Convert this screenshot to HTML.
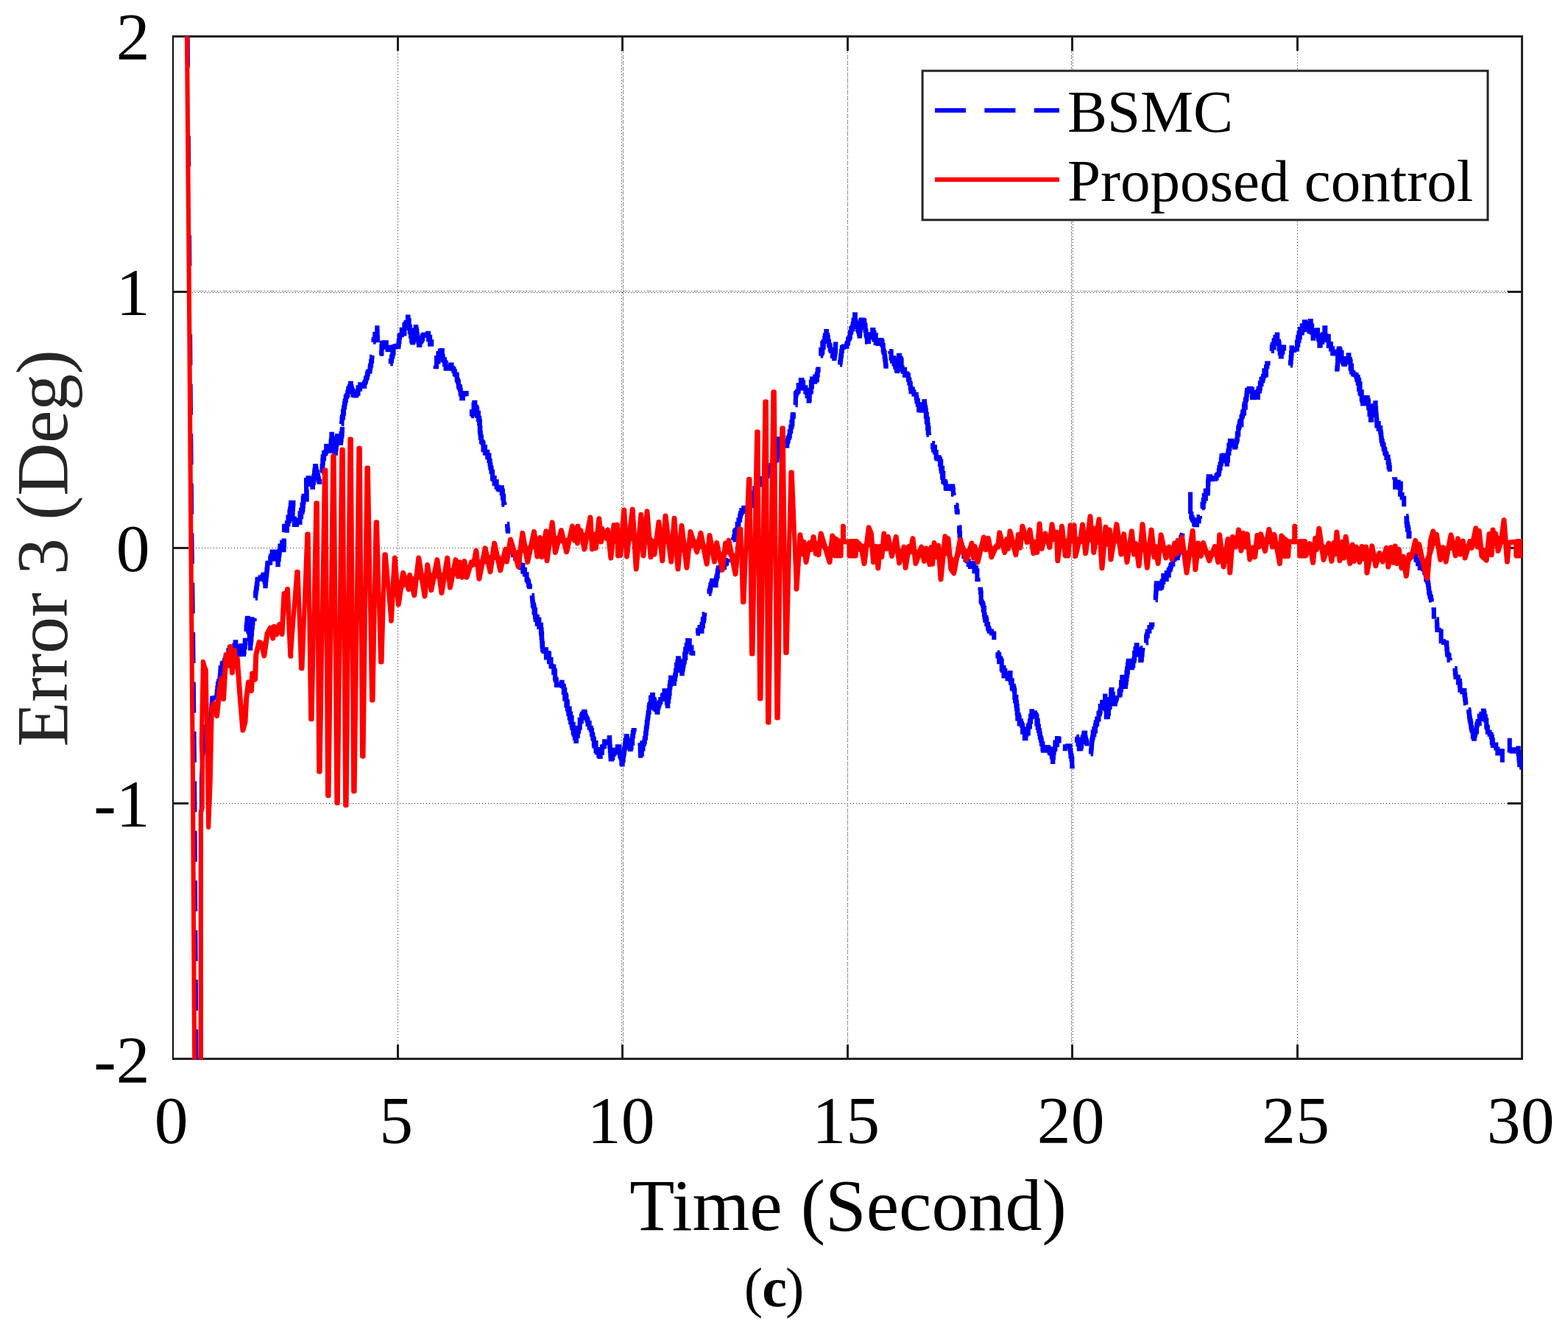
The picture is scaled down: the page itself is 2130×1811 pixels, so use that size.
<!DOCTYPE html>
<html lang="en"><head><meta charset="utf-8"><title>Error 3 (Deg) vs Time (Second)</title>
<style>html,body{margin:0;padding:0;background:#fff}body{width:2130px;height:1811px;overflow:hidden}svg{display:block}text{font-family:'Liberation Serif', 'DejaVu Serif', serif;}</style>
</head><body>
<svg width="2130" height="1811" viewBox="0 0 2130 1811">
<rect x="0" y="0" width="2130" height="1811" fill="#ffffff"/>
<defs><clipPath id="ax"><rect x="235.0" y="48.9" width="1833.0" height="1390.6"/></clipPath></defs>
<g stroke="#2b2b2b" stroke-width="1" fill="none" shape-rendering="crispEdges">
<line x1="540.5" y1="53" x2="540.5" y2="1436" stroke-dasharray="1 3"/>
<line x1="844.5" y1="53" x2="844.5" y2="1436" stroke-dasharray="1 3"/>
<line x1="846.5" y1="55" x2="846.5" y2="1436" stroke-dasharray="1 3"/>
<line x1="846.5" y1="53" x2="846.5" y2="1436" stroke-dasharray="1 7"/>
<line x1="1151.5" y1="55" x2="1151.5" y2="1436" stroke-dasharray="1 3"/>
<line x1="1151.5" y1="53" x2="1151.5" y2="1436" stroke-dasharray="1 7"/>
<line x1="1455.5" y1="55" x2="1455.5" y2="1436" stroke-dasharray="1 3"/>
<line x1="1455.5" y1="53" x2="1455.5" y2="1436" stroke-dasharray="1 7"/>
<line x1="1457.5" y1="53" x2="1457.5" y2="1436" stroke-dasharray="1 3"/>
<line x1="1762.5" y1="53" x2="1762.5" y2="1436" stroke-dasharray="1 3"/>
<line x1="239" y1="395.5" x2="2065" y2="395.5" stroke-dasharray="1 3"/>
<line x1="241" y1="395.5" x2="2065" y2="395.5" stroke-dasharray="1 15"/>
<line x1="241" y1="397.5" x2="2065" y2="397.5" stroke-dasharray="1 3"/>
<line x1="238" y1="744.5" x2="2065" y2="744.5" stroke-dasharray="1 3"/>
<line x1="239" y1="1091.5" x2="2065" y2="1091.5" stroke-dasharray="1 3"/>
</g>
<g shape-rendering="crispEdges">
<rect x="234" y="48" width="1835" height="3" fill="#202020"/>
<rect x="234" y="1437" width="1835" height="3" fill="#202020"/>
<rect x="234" y="48" width="2" height="1392" fill="#0c0c0c"/>
<rect x="2066" y="48" width="3" height="1392" fill="#202020"/>
<rect x="539" y="50" width="3" height="19.0" fill="#1e1e1e"/>
<rect x="539" y="1419.0" width="3" height="19.0" fill="#1e1e1e"/>
<rect x="844" y="50" width="3" height="19.0" fill="#1e1e1e"/>
<rect x="844" y="1419.0" width="3" height="19.0" fill="#1e1e1e"/>
<rect x="1150" y="50" width="3" height="19.0" fill="#1e1e1e"/>
<rect x="1150" y="1419.0" width="3" height="19.0" fill="#1e1e1e"/>
<rect x="1455" y="50" width="3" height="19.0" fill="#1e1e1e"/>
<rect x="1455" y="1419.0" width="3" height="19.0" fill="#1e1e1e"/>
<rect x="1761" y="50" width="3" height="19.0" fill="#1e1e1e"/>
<rect x="1761" y="1419.0" width="3" height="19.0" fill="#1e1e1e"/>
<rect x="235" y="395" width="20.6" height="3" fill="#1e1e1e"/>
<rect x="2047.8" y="395" width="19.7" height="3" fill="#1e1e1e"/>
<rect x="235" y="743" width="20.6" height="3" fill="#1e1e1e"/>
<rect x="2047.8" y="743" width="19.7" height="3" fill="#1e1e1e"/>
<rect x="235" y="1090" width="20.6" height="3" fill="#1e1e1e"/>
<rect x="2047.8" y="1090" width="19.7" height="3" fill="#1e1e1e"/>
</g>
<g clip-path="url(#ax)" fill="none">
<g stroke="#0000ff" stroke-width="6.1" stroke-linejoin="miter" stroke-miterlimit="3" stroke-linecap="butt">
<path d="M254.62 40.0 L255.07 91.6"/>
<path d="M255.86 184.5 L256.22 226.5"/>
<path d="M257.02 319.4 L257.38 361.4"/>
<path d="M258.11 454.3 L258.43 496.3"/>
<path d="M258.64 521.8 L259.00 563.8"/>
<path d="M259.22 589.2 L259.57 631.2"/>
<path d="M259.79 656.7 L260.15 698.7"/>
<path d="M260.36 724.1 L260.85 766.1"/>
<path d="M261.19 791.6 L261.76 833.6"/>
<path d="M262.07 859.0 L262.52 901.0"/>
<path d="M262.78 926.5 L263.22 968.5"/>
<path d="M263.49 993.9 L263.93 1035.9"/>
<path d="M264.13 1061.3 L264.38 1103.3"/>
<path d="M264.53 1128.8 L264.78 1170.8"/>
<path d="M264.94 1196.2 L265.19 1238.2"/>
<path d="M265.34 1263.7 L265.59 1305.7"/>
<path d="M265.75 1331.1 L266.00 1373.1"/>
<path d="M266.15 1398.6 L266.40 1440.6"/>
<path d="M266.40 1466.0 L266.40 1445.0"/>
<path d="M272.8 1460.0 L272.8 1103.0 L274.0 1099.0 L274.0 1059.0 L274.8 1040.0 L275.5 985.0 L279.0 1000.0 L283.3 1040.0 L285.3 1000.0"/>
<path d="M285.3 1000.0 L285.4 1000.0 L285.4 996.0 L285.5 996.0 L285.5 994.6 L285.6 994.6 L285.6 989.4 L285.8 989.4 L285.8 988.1 L285.9 988.1 L285.9 983.1 L286.0 983.1 L286.0 979.2 L286.1 979.2 L286.1 977.0 L286.2 977.0 L286.2 977.0 L286.5 977.0 L286.5 970.0 L286.7 970.0 L286.7 969.5 L287.0 969.5 L287.0 965.2 L287.2 965.2 L287.2 963.2 L287.5 963.2 L287.5 958.7 L287.8 958.7 L287.8 957.0 L288.0 957.0 L288.0 951.9 L288.3 951.9 L288.3 948.5 L291.2 948.5 L291.2 948.0 L294.2 948.0 L294.2 946.5 L294.5 946.5 L294.5 944.9 L294.8 944.9 L294.8 939.6 L295.1 939.6 L295.1 939.4 L295.4 939.4 L295.4 934.3 L295.7 934.3 L295.7 935.5 L296.0 935.5 L296.0 928.8 L297.2 928.8 L297.2 925.3 L298.5 925.3 L298.5 926.5 L298.7 926.5 L298.7 920.6 L298.9 920.6 L298.9 918.7 L299.1 918.7 L299.1 917.2 L299.4 917.2 L299.4 912.9 L299.6 912.9 L299.6 908.6 L299.8 908.6 L299.8 908.8 L300.0 908.8 L300.0 906.7 L301.8 906.7 L301.8 901.2 L303.6 901.2 L303.6 900.5 L305.1 900.5 L305.1 896.8 L306.5 896.8 L306.5 894.3 L308.0 894.3 L308.0 894.0 L308.8 894.0 L308.8 891.1 L309.6 891.1 L309.6 889.4 L310.4 889.4 L310.4 883.7 L311.2 883.7 L311.2 883.1 L312.0 883.1 L312.0 879.6 L314.0 879.6 L314.0 882.0 L316.0 882.0 L316.0 882.2 L317.2 882.2 L317.2 880.8 L318.5 880.8 L318.5 876.5 L319.7 876.5 L319.7 872.4 L320.3 872.4 L320.3 878.2 L320.9 878.2 L320.9 878.6 L321.4 878.6 L321.4 883.8 L322.0 883.8 L322.0 885.3 L324.8 885.3 L324.8 889.3 L325.4 889.3 L325.4 884.1 L326.1 884.1 L326.1 884.0 L326.7 884.0 L326.7 880.7 L327.3 880.7 L327.3 877.3 L328.0 877.3 L328.0 881.5 L328.6 881.5 L328.6 880.1 L329.3 880.1 L329.3 886.8 L330.0 886.8 L330.0 887.1 L330.6 887.1 L330.6 888.9 L331.1 888.9 L331.1 886.2 L331.6 886.2 L331.6 877.0 L332.2 877.0 L332.2 879.5 L332.8 879.5 L332.8 869.9 L333.3 869.9 L333.3 870.6"/>
<path d="M334.3 857.9 L334.6 857.9 L334.6 852.0 L335.0 852.0 L335.0 849.0 L335.3 849.0 L335.3 847.2 L335.6 847.2 L335.6 843.4 L335.9 843.4 L335.9 840.1 L336.3 840.1 L336.3 841.9 L336.6 841.9 L336.6 839.8 L336.8 839.8 L336.8 844.8 L337.1 844.8 L337.1 840.7 L337.3 840.7 L337.3 843.9 L337.5 843.9 L337.5 847.0 L337.8 847.0 L337.8 849.4 L338.0 849.4 L338.0 857.1 L338.3 857.1 L338.3 855.2 L338.5 855.2 L338.5 859.2 L338.8 859.2 L338.8 865.8 L339.0 865.8 L339.0 868.1 L339.2 868.1 L339.2 868.6 L339.5 868.6 L339.5 873.4 L339.7 873.4 L339.7 873.3 L340.0 873.3 L340.0 880.8 L340.3 880.8 L340.3 871.9 L340.5 871.9 L340.5 873.7 L340.8 873.7 L340.8 870.4 L341.1 870.4 L341.1 867.9 L341.4 867.9 L341.4 862.1 L341.7 862.1 L341.7 861.3 L342.0 861.3 L342.0 855.5 L342.2 855.5 L342.2 851.8 L342.5 851.8 L342.5 852.6 L342.8 852.6 L342.8 846.5 L343.1 846.5 L343.1 846.7 L343.4 846.7 L343.4 841.2 L345.6 841.2 L345.6 839.8"/>
<path d="M346.8 812.6 L347.1 812.6 L347.1 806.5 L347.5 806.5 L347.5 804.3 L347.8 804.3 L347.8 802.8 L348.1 802.8 L348.1 799.6 L348.5 799.6 L348.5 798.4 L348.8 798.4 L348.8 794.3 L349.2 794.3 L349.2 793.2 L349.5 793.2 L349.5 788.0 L349.8 788.0 L349.8 787.1 L350.2 787.1 L350.2 786.8 L353.6 786.8 L353.6 784.2 L355.3 784.2 L355.3 784.4 L357.0 784.4 L357.0 782.5 L357.7 782.5 L357.7 780.6 L358.3 780.6 L358.3 786.9 L359.0 786.9 L359.0 787.9 L359.7 787.9 L359.7 790.8 L360.4 790.8 L360.4 796.3 L360.7 796.3 L360.7 792.1 L361.0 792.1 L361.0 787.9 L361.3 787.9 L361.3 786.4 L361.6 786.4 L361.6 782.4 L361.9 782.4 L361.9 780.5 L362.2 780.5 L362.2 777.6 L362.5 777.6 L362.5 773.7 L362.9 773.7 L362.9 771.8 L363.2 771.8 L363.2 767.4 L363.5 767.4 L363.5 764.7 L363.8 764.7 L363.8 764.8 L367.2 764.8 L367.2 758.4 L368.0 758.4 L368.0 755.2 L368.9 755.2 L368.9 759.8 L369.7 759.8 L369.7 749.5 L370.6 749.5 L370.6 752.3 L374.0 752.3 L374.0 749.8 L374.7 749.8 L374.7 750.7 L375.4 750.7 L375.4 758.9 L376.0 758.9 L376.0 757.3 L376.7 757.3 L376.7 760.1 L377.4 760.1 L377.4 767.3 L377.8 767.3 L377.8 761.0 L378.2 761.0 L378.2 759.6 L378.7 759.6 L378.7 755.2 L379.1 755.2 L379.1 753.0 L379.5 753.0 L379.5 748.8 L379.9 748.8 L379.9 746.9 L380.4 746.9 L380.4 741.6 L380.8 741.6 L380.8 742.2 L383.1 742.2 L383.1 736.7 L385.3 736.7 L385.3 747.3 L385.6 747.3 L385.6 734.5 L385.8 734.5 L385.8 740.4 L386.0 740.4 L386.0 733.2"/>
<path d="M383.1 714.7 L386.1 714.7 L386.1 719.9 L389.2 719.9 L389.2 720.6 L389.9 720.6 L389.9 710.3 L390.7 710.3 L390.7 712.3 L391.5 712.3 L391.5 702.6 L392.2 702.6 L392.2 708.0 L393.0 708.0 L393.0 704.0 L393.4 704.0 L393.4 695.1 L393.8 695.1 L393.8 696.5 L394.2 696.5 L394.2 691.8 L394.5 691.8 L394.5 690.5 L394.9 690.5 L394.9 686.3 L395.3 686.3 L395.3 682.8 L398.4 682.8 L398.4 685.2 L398.2 685.2 L398.2 686.4 L398.0 686.4 L398.0 690.9 L397.8 690.9 L397.8 692.5 L397.6 692.5 L397.6 697.4 L397.4 697.4 L397.4 698.6 L397.2 698.6 L397.2 705.3 L397.0 705.3 L397.0 702.2 L396.8 702.2 L396.8 704.6 L399.9 704.6 L399.9 713.0 L403.0 713.0 L403.0 706.5 L406.0 706.5 L406.0 706.5 L406.8 706.5 L406.8 710.0 L407.5 710.0 L407.5 697.2 L408.3 697.2 L408.3 702.1 L409.1 702.1 L409.1 692.8 L409.8 692.8 L409.8 695.9 L410.6 695.9 L410.6 685.5 L411.0 685.5 L411.0 692.7 L411.4 692.7 L411.4 688.1 L411.8 688.1 L411.8 676.8 L412.1 676.8 L412.1 682.8 L412.5 682.8 L412.5 673.7 L412.9 673.7 L412.9 678.7 L416.7 678.7 L416.7 668.4 L416.6 668.4 L416.6 672.0 L416.4 672.0 L416.4 669.6 L416.3 669.6 L416.3 666.9 L416.1 666.9 L416.1 654.8 L416.0 654.8 L416.0 652.1 L417.2 652.1 L417.2 658.3 L418.5 658.3 L418.5 649.4 L419.8 649.4 L419.8 651.1 L420.9 651.1 L420.9 651.0 L422.1 651.0 L422.1 655.9 L423.2 655.9 L423.2 657.3 L424.4 657.3 L424.4 661.9 L424.9 661.9 L424.9 656.5 L425.4 656.5 L425.4 656.0 L425.9 656.0 L425.9 651.4 L426.3 651.4 L426.3 647.9 L426.7 647.9 L426.7 646.4 L427.1 646.4 L427.1 642.3 L427.4 642.3 L427.4 639.2 L427.8 639.2 L427.8 637.4 L428.2 637.4 L428.2 633.0 L429.0 633.0 L429.0 637.4 L429.7 637.4 L429.7 640.8 L430.5 640.8 L430.5 642.0 L431.3 642.0 L431.3 646.2 L432.0 646.2 L432.0 649.6 L432.8 649.6 L432.8 653.3 L433.6 653.3 L433.6 654.4 L434.3 654.4 L434.3 658.0"/>
<path d="M437.4 641.2 L437.6 641.2 L437.6 633.6 L437.8 633.6 L437.8 639.4 L438.0 639.4 L438.0 634.3 L438.3 634.3 L438.3 625.5 L438.5 625.5 L438.5 629.1 L438.7 629.1 L438.7 620.3 L438.9 620.3 L438.9 623.1 L440.1 623.1 L440.1 614.9 L441.2 614.9 L441.2 616.5 L442.2 616.5 L442.2 613.7 L443.2 613.7 L443.2 606.1 L444.3 606.1 L444.3 607.7 L446.6 607.7 L446.6 606.0 L448.9 606.0 L448.9 612.8 L449.1 612.8 L449.1 606.8 L449.4 606.8 L449.4 605.3 L449.6 605.3 L449.6 600.2 L449.9 600.2 L449.9 598.2 L450.1 598.2 L450.1 597.3 L450.4 597.3 L450.4 589.9 L451.0 589.9 L451.0 597.7 L451.5 597.7 L451.5 595.8 L452.1 595.8 L452.1 602.2 L452.7 602.2 L452.7 602.3 L453.3 602.3 L453.3 608.4 L453.8 608.4 L453.8 606.5 L454.4 606.5 L454.4 615.3 L455.0 615.3 L455.0 612.4 L455.4 612.4 L455.4 615.8 L455.9 615.8 L455.9 606.4 L456.3 606.4 L456.3 609.6 L456.7 609.6 L456.7 604.1 L457.2 604.1 L457.2 601.2 L457.6 601.2 L457.6 594.9 L458.0 594.9 L458.0 592.3 L459.6 592.3 L459.6 595.4 L461.1 595.4 L461.1 597.9 L462.6 597.9 L462.6 601.9 L463.0 601.9 L463.0 596.2 L463.3 596.2 L463.3 597.8 L463.6 597.8 L463.6 588.8 L463.9 588.8 L463.9 592.7 L464.3 592.7 L464.3 589.6 L464.6 589.6 L464.6 585.2 L464.9 585.2 L464.9 580.0"/>
<path d="M463.6 575.9 L464.0 575.9 L464.0 575.4 L464.5 575.4 L464.5 568.7 L465.0 568.7 L465.0 566.0 L465.5 566.0 L465.5 567.2 L466.0 567.2 L466.0 558.6 L466.5 558.6 L466.5 561.6 L467.0 561.6 L467.0 553.9 L467.5 553.9 L467.5 553.0 L468.1 553.0 L468.1 548.4 L468.7 548.4 L468.7 544.8 L469.2 544.8 L469.2 544.2 L469.8 544.2 L469.8 539.3 L470.4 539.3 L470.4 538.6 L471.3 538.6 L471.3 536.8 L472.3 536.8 L472.3 532.7 L473.2 532.7 L473.2 528.4 L474.1 528.4 L474.1 527.3 L475.1 527.3 L475.1 524.8 L476.0 524.8 L476.0 520.7 L476.7 520.7 L476.7 525.0 L477.4 525.0 L477.4 527.8 L478.1 527.8 L478.1 530.9 L478.8 530.9 L478.8 530.5 L479.4 530.5 L479.4 536.6 L481.7 536.6 L481.7 537.5 L484.0 537.5 L484.0 535.4 L484.8 535.4 L484.8 532.2 L485.7 532.2 L485.7 534.6 L486.5 534.6 L486.5 526.4 L487.4 526.4 L487.4 528.7 L489.1 528.7 L489.1 522.4 L490.8 522.4 L490.8 523.3 L494.2 523.3 L494.2 525.0 L495.1 525.0 L495.1 520.2 L496.1 520.2 L496.1 518.3 L497.0 518.3 L497.0 514.1 L498.0 514.1 L498.0 512.5 L498.9 512.5 L498.9 508.1 L499.8 508.1 L499.8 504.8 L502.1 504.8 L502.1 504.1 L502.6 504.1 L502.6 499.7 L503.1 499.7 L503.1 497.0 L503.6 497.0 L503.6 496.0 L504.1 496.0 L504.1 491.0 L504.5 491.0 L504.5 490.8 L505.0 490.8 L505.0 484.8 L505.5 484.8 L505.5 483.0"/>
<path d="M507.1 464.8 L507.4 464.8 L507.4 463.0 L507.8 463.0 L507.8 460.8 L509.3 460.8 L509.3 453.8 L510.8 453.8 L510.8 454.6 L512.3 454.6 L512.3 445.2 L512.4 445.2 L512.4 449.8 L512.6 449.8 L512.6 459.8 L512.7 459.8 L512.7 462.2 L512.9 462.2 L512.9 458.5 L513.0 458.5 L513.0 464.8"/>
<path d="M516.2 480.7 L518.0 480.7 L518.0 479.3 L518.2 479.3 L518.2 480.0 L518.4 480.0 L518.4 470.5 L518.7 470.5 L518.7 473.3 L518.9 473.3 L518.9 465.7 L519.1 465.7 L519.1 467.8 L522.0 467.8 L522.0 465.4 L524.8 465.4 L524.8 471.7 L526.5 471.7 L526.5 475.1 L528.3 475.1 L528.3 471.9 L530.0 471.9 L530.0 476.2"/>
<path d="M530.2 494.2 L530.8 494.2 L530.8 490.1 L531.4 490.1 L531.4 490.3 L532.0 490.3 L532.0 485.2 L532.6 485.2 L532.6 483.8 L533.3 483.8 L533.3 480.8 L533.9 480.8 L533.9 479.5 L534.5 479.5 L534.5 471.4 L536.6 471.4 L536.6 470.2 L538.8 470.2 L538.8 469.9 L540.9 469.9 L540.9 471.2 L541.3 471.2 L541.3 468.2 L541.7 468.2 L541.7 463.2 L542.0 463.2 L542.0 464.2 L542.4 464.2 L542.4 457.1 L542.7 457.1 L542.7 458.5 L543.1 458.5 L543.1 455.1 L545.7 455.1 L545.7 447.9 L548.3 447.9 L548.3 453.4 L549.4 453.4 L549.4 441.3 L550.5 441.3 L550.5 440.1 L551.6 440.1 L551.6 438.0 L552.8 438.0 L552.8 440.3 L553.9 440.3 L553.9 430.6 L554.5 430.6 L554.5 441.8 L555.1 441.8 L555.1 435.2 L555.6 435.2 L555.6 445.9 L556.2 445.9 L556.2 443.9 L556.8 443.9 L556.8 451.2 L557.4 451.2 L557.4 448.5 L558.0 448.5 L558.0 457.2 L558.6 457.2 L558.6 454.0 L559.2 454.0 L559.2 463.4 L559.8 463.4 L559.8 461.2 L560.3 461.2 L560.3 465.4 L561.0 465.4 L561.0 463.8 L561.6 463.8 L561.6 461.6 L562.2 461.6 L562.2 455.9 L562.8 455.9 L562.8 455.2 L563.4 455.2 L563.4 452.0 L564.0 452.0 L564.0 448.2 L564.7 448.2 L564.7 444.1 L565.2 444.1 L565.2 447.2 L565.7 447.2 L565.7 450.0 L566.3 450.0 L566.3 454.2 L566.8 454.2 L566.8 457.3 L567.3 457.3 L567.3 459.0 L567.9 459.0 L567.9 460.4 L568.4 460.4 L568.4 464.7 L569.0 464.7 L569.0 469.0 L570.3 469.0 L570.3 464.8 L571.6 464.8 L571.6 463.0 L572.8 463.0 L572.8 460.7 L574.1 460.7 L574.1 455.7 L575.4 455.7 L575.4 454.5 L578.2 454.5 L578.2 455.9 L581.0 455.9 L581.0 452.9 L582.1 452.9 L582.1 461.3 L583.1 461.3 L583.1 457.8 L584.1 457.8 L584.1 467.6 L585.2 467.6 L585.2 464.4 L586.2 464.4 L586.2 470.5"/>
<path d="M590.5 496.4 L591.7 496.4 L591.7 498.1 L593.0 498.1 L593.0 486.1 L594.2 486.1 L594.2 491.4 L595.4 491.4 L595.4 480.0 L596.7 480.0 L596.7 484.8 L597.9 484.8 L597.9 476.6 L599.1 476.6 L599.1 480.1 L599.9 480.1 L599.9 476.0 L600.8 476.0 L600.8 484.1 L601.6 484.1 L601.6 488.6 L602.4 488.6 L602.4 489.8 L603.2 489.8 L603.2 488.2 L604.0 488.2 L604.0 495.3 L604.8 495.3 L604.8 492.6 L605.6 492.6 L605.6 500.7 L608.8 500.7 L608.8 498.9 L612.1 498.9 L612.1 495.5 L613.5 495.5 L613.5 500.0 L614.9 500.0 L614.9 501.3 L616.4 501.3 L616.4 504.3 L617.8 504.3 L617.8 508.5 L619.3 508.5 L619.3 509.1 L620.7 509.1 L620.7 515.5 L621.4 515.5 L621.4 517.0 L622.1 517.0 L622.1 518.6 L622.8 518.6 L622.8 524.2 L623.6 524.2 L623.6 526.7 L624.3 526.7 L624.3 525.6 L625.0 525.6 L625.0 529.8 L625.7 529.8 L625.7 534.4 L626.4 534.4 L626.4 536.2 L627.2 536.2 L627.2 541.2 L628.8 541.2 L628.8 535.6 L630.4 535.6 L630.4 534.1 L632.0 534.1 L632.0 535.1 L633.6 535.1 L633.6 530.9"/>
<path d="M640.1 565.3 L640.9 565.3 L640.9 559.4 L641.8 559.4 L641.8 563.3 L642.7 563.3 L642.7 561.1 L643.5 561.1 L643.5 549.6 L644.4 549.6 L644.4 546.8 L645.3 546.8 L645.3 556.7 L646.2 556.7 L646.2 552.7 L647.2 552.7 L647.2 555.3 L648.1 555.3 L648.1 564.9 L649.0 564.9 L649.0 560.9 L649.9 560.9 L649.9 570.3 L650.9 570.3 L650.9 567.7 L651.1 567.7 L651.1 575.3 L651.3 575.3 L651.3 571.6 L651.6 571.6 L651.6 573.5 L651.8 573.5 L651.8 585.4 L652.1 585.4 L652.1 581.4 L652.3 581.4 L652.3 588.6 L652.5 588.6 L652.5 587.6 L652.8 587.6 L652.8 594.7 L653.0 594.7 L653.0 593.4 L653.9 593.4 L653.9 600.2 L654.7 600.2 L654.7 600.2 L655.6 600.2 L655.6 602.0 L656.5 602.0 L656.5 611.2 L657.3 611.2 L657.3 607.1 L658.9 607.1 L658.9 615.7 L660.6 615.7 L660.6 613.8 L662.2 613.8 L662.2 621.3 L663.8 621.3 L663.8 618.6 L664.4 618.6 L664.4 625.9 L665.0 625.9 L665.0 626.3 L665.6 626.3 L665.6 631.1 L666.3 631.1 L666.3 635.1 L666.9 635.1 L666.9 636.1 L667.5 636.1 L667.5 641.2 L668.1 641.2 L668.1 640.9 L669.0 640.9 L669.0 649.9 L669.8 649.9 L669.8 651.3 L670.7 651.3 L670.7 649.1 L671.6 649.1 L671.6 657.3 L672.4 657.3 L672.4 654.4 L674.6 654.4 L674.6 661.9 L676.7 661.9 L676.7 664.8 L678.9 664.8 L678.9 665.4 L681.0 665.4 L681.0 662.3 L681.7 662.3 L681.7 670.3 L682.3 670.3 L682.3 666.8 L682.9 666.8 L682.9 676.8 L683.5 676.8 L683.5 673.8 L684.1 673.8 L684.1 684.2 L684.7 684.2 L684.7 685.6 L685.3 685.6 L685.3 686.0"/>
<path d="M688.8 711.9 L689.1 711.9 L689.1 713.9 L689.4 713.9 L689.4 718.9 L689.8 718.9 L689.8 721.0 L690.1 721.0 L690.1 724.8"/>
<path d="M691.8 737.8 L692.9 737.8 L692.9 738.0 L694.0 738.0 L694.0 740.6 L695.0 740.6 L695.0 741.5 L696.1 741.5 L696.1 745.9 L697.2 745.9 L697.2 754.3 L698.3 754.3 L698.3 753.4 L700.1 753.4 L700.1 758.8 L701.9 758.8 L701.9 759.2 L703.7 759.2 L703.7 764.4 L705.5 764.4 L705.5 767.1 L707.3 767.1 L707.3 771.2 L709.1 771.2 L709.1 768.0 L710.3 768.0 L710.3 776.6 L711.6 776.6 L711.6 773.7 L712.9 773.7 L712.9 780.5 L714.2 780.5 L714.2 780.4 L715.5 780.4 L715.5 787.4 L716.4 787.4 L716.4 788.8 L717.2 788.8 L717.2 790.2 L718.1 790.2 L718.1 795.0 L719.0 795.0 L719.0 796.6 L719.8 796.6 L719.8 800.3"/>
<path d="M722.4 808.9 L722.8 808.9 L722.8 809.8 L723.1 809.8 L723.1 813.8 L723.4 813.8 L723.4 817.2 L723.8 817.2 L723.8 822.5 L724.1 822.5 L724.1 821.2 L724.9 821.2 L724.9 824.5 L725.6 824.5 L725.6 832.5 L726.3 832.5 L726.3 828.2 L727.0 828.2 L727.0 838.3 L727.7 838.3 L727.7 842.0 L728.4 842.0 L728.4 837.6 L729.7 837.6 L729.7 847.7 L731.0 847.7 L731.0 841.6 L732.3 841.6 L732.3 851.9 L733.6 851.9 L733.6 848.7 L734.9 848.7 L734.9 858.7 L735.2 858.7 L735.2 861.4 L735.4 861.4 L735.4 855.2 L735.6 855.2 L735.6 866.1 L735.9 866.1 L735.9 860.8 L736.1 860.8 L736.1 870.6 L736.4 870.6 L736.4 875.5 L736.6 875.5 L736.6 878.3 L736.8 878.3 L736.8 874.0 L737.1 874.0 L737.1 883.2 L738.7 883.2 L738.7 885.3 L740.3 885.3 L740.3 882.4 L741.9 882.4 L741.9 893.4 L743.5 893.4 L743.5 887.1 L744.8 887.1 L744.8 888.1 L746.0 888.1 L746.0 899.3 L747.2 899.3 L747.2 895.9 L748.5 895.9 L748.5 904.9 L749.7 904.9 L749.7 905.8 L750.9 905.8 L750.9 905.6 L752.2 905.6 L752.2 914.0 L752.8 914.0 L752.8 910.4 L753.4 910.4 L753.4 912.8 L754.0 912.8 L754.0 921.5 L754.6 921.5 L754.6 923.9 L755.2 923.9 L755.2 923.5 L755.8 923.5 L755.8 930.7 L756.5 930.7 L756.5 931.0 L758.6 931.0 L758.6 929.7 L760.8 929.7 L760.8 929.5 L762.9 929.5 L762.9 926.9 L763.6 926.9 L763.6 931.9 L764.4 931.9 L764.4 931.5 L765.1 931.5 L765.1 932.8 L765.8 932.8 L765.8 940.9 L766.5 940.9 L766.5 936.8 L767.2 936.8 L767.2 949.5 L768.0 949.5 L768.0 943.9 L768.7 943.9 L768.7 946.8 L769.4 946.8 L769.4 958.5 L770.1 958.5 L770.1 953.4 L770.8 953.4 L770.8 962.7 L771.6 962.7 L771.6 964.8 L772.3 964.8 L772.3 969.9 L773.0 969.9 L773.0 962.6 L773.7 962.6 L773.7 975.8 L774.4 975.8 L774.4 969.6 L775.1 969.6 L775.1 981.1 L775.9 981.1 L775.9 974.7 L776.6 974.7 L776.6 985.3 L777.3 985.3 L777.3 989.0 L778.0 989.0 L778.0 983.8 L778.7 983.8 L778.7 994.9 L779.5 994.9 L779.5 997.7 L780.2 997.7 L780.2 993.2 L780.9 993.2 L780.9 1002.8 L781.6 1002.8 L781.6 999.5 L782.3 999.5 L782.3 1007.0 L782.9 1007.0 L782.9 998.9 L783.6 998.9 L783.6 995.7 L784.2 995.7 L784.2 999.9 L784.8 999.9 L784.8 989.0 L785.4 989.0 L785.4 993.6 L786.0 993.6 L786.0 989.5 L786.6 989.5 L786.6 988.5 L787.7 988.5 L787.7 977.7 L788.8 977.7 L788.8 980.1 L789.9 980.1 L789.9 972.4 L790.9 972.4 L790.9 969.6 L792.0 969.6 L792.0 969.7 L793.1 969.7 L793.1 966.7 L794.0 966.7 L794.0 967.7 L794.8 967.7 L794.8 972.6 L795.7 972.6 L795.7 974.8 L796.6 974.8 L796.6 976.0 L797.4 976.0 L797.4 978.4 L798.5 978.4 L798.5 983.9 L799.6 983.9 L799.6 982.0 L800.6 982.0 L800.6 988.8 L801.7 988.8 L801.7 988.7 L802.8 988.7 L802.8 991.7 L803.9 991.7 L803.9 997.8 L804.6 997.8 L804.6 997.7 L805.3 997.7 L805.3 1002.7 L806.0 1002.7 L806.0 1004.0 L806.8 1004.0 L806.8 1011.4 L807.5 1011.4 L807.5 1013.6 L808.2 1013.6 L808.2 1009.0 L809.5 1009.0 L809.5 1020.2 L810.8 1020.2 L810.8 1022.4 L812.1 1022.4 L812.1 1018.1 L813.4 1018.1 L813.4 1026.8 L814.7 1026.8 L814.7 1028.0 L815.7 1028.0 L815.7 1022.4 L816.8 1022.4 L816.8 1022.7 L817.9 1022.7 L817.9 1014.9 L819.0 1014.9 L819.0 1014.1 L820.0 1014.1 L820.0 1014.2 L821.1 1014.2 L821.1 1007.3 L823.3 1007.3 L823.3 1009.2 L825.4 1009.2 L825.4 1007.2 L827.6 1007.2 L827.6 1004.5 L827.8 1004.5 L827.8 1002.0 L828.1 1002.0 L828.1 1007.6 L828.3 1007.6 L828.3 1012.9 L828.5 1012.9 L828.5 1014.6 L828.8 1014.6 L828.8 1020.4 L829.0 1020.4 L829.0 1020.5 L829.3 1020.5 L829.3 1025.7 L829.5 1025.7 L829.5 1027.1 L829.7 1027.1 L829.7 1031.5 L831.0 1031.5 L831.0 1029.6 L832.3 1029.6 L832.3 1025.0 L833.6 1025.0 L833.6 1023.5 L834.9 1023.5 L834.9 1018.7 L836.2 1018.7 L836.2 1019.7 L838.8 1019.7 L838.8 1014.3 L841.4 1014.3 L841.4 1020.1"/>
<path d="M840.0 1017.9 L840.7 1017.9 L840.7 1021.7 L841.5 1021.7 L841.5 1022.8 L842.2 1022.8 L842.2 1026.8 L843.0 1026.8 L843.0 1028.3 L843.7 1028.3 L843.7 1030.4 L844.4 1030.4 L844.4 1037.1 L845.2 1037.1 L845.2 1038.5 L845.6 1038.5 L845.6 1033.4 L846.1 1033.4 L846.1 1032.6 L846.6 1032.6 L846.6 1027.7 L847.0 1027.7 L847.0 1024.7 L847.5 1024.7 L847.5 1022.6 L848.0 1022.6 L848.0 1018.4 L848.4 1018.4 L848.4 1016.5 L848.9 1016.5 L848.9 1011.7 L849.4 1011.7 L849.4 1010.5 L849.8 1010.5 L849.8 1006.2 L850.3 1006.2 L850.3 1004.5 L850.8 1004.5 L850.8 1000.0 L851.5 1000.0 L851.5 1002.8 L852.2 1002.8 L852.2 1007.2 L852.9 1007.2 L852.9 1008.4 L853.6 1008.4 L853.6 1013.4 L854.4 1013.4 L854.4 1013.7 L855.1 1013.7 L855.1 1015.6 L855.9 1015.6 L855.9 1017.9 L856.7 1017.9 L856.7 1015.4 L857.5 1015.4 L857.5 1005.5 L858.3 1005.5 L858.3 1009.9 L859.1 1009.9 L859.1 1000.1 L859.9 1000.1 L859.9 994.8 L860.7 994.8 L860.7 992.0 L861.6 992.0 L861.6 994.2"/>
<path d="M869.3 1009.3 L869.5 1009.3 L869.5 1010.3 L869.7 1010.3 L869.7 1018.4 L869.8 1018.4 L869.8 1014.9 L870.0 1014.9 L870.0 1026.7 L870.2 1026.7 L870.2 1020.5 L871.0 1020.5 L871.0 1024.6 L871.8 1024.6 L871.8 1016.1 L872.6 1016.1 L872.6 1017.4 L873.4 1017.4 L873.4 1011.1 L874.2 1011.1 L874.2 1010.2 L875.0 1010.2 L875.0 1007.7 L875.8 1007.7 L875.8 1002.7 L876.6 1002.7 L876.6 1002.6 L877.0 1002.6 L877.0 995.9 L877.4 995.9 L877.4 996.4 L877.7 996.4 L877.7 991.4 L878.1 991.4 L878.1 988.7 L878.4 988.7 L878.4 987.0 L878.8 987.0 L878.8 980.8 L879.2 980.8 L879.2 982.1 L879.5 982.1 L879.5 976.7 L879.9 976.7 L879.9 975.5 L880.2 975.5 L880.2 972.7 L880.6 972.7 L880.6 968.5 L880.9 968.5 L880.9 967.6 L881.6 967.6 L881.6 960.7 L882.2 960.7 L882.2 957.3 L882.8 957.3 L882.8 961.5 L883.4 961.5 L883.4 955.6 L884.0 955.6 L884.0 947.5 L884.6 947.5 L884.6 951.6 L885.3 951.6 L885.3 949.1 L886.1 949.1 L886.1 943.9 L886.9 943.9 L886.9 954.4 L887.7 954.4 L887.7 949.9 L888.5 949.9 L888.5 952.4 L889.3 952.4 L889.3 962.9 L890.1 962.9 L890.1 959.3 L890.9 959.3 L890.9 963.9 L891.7 963.9 L891.7 964.8 L892.6 964.8 L892.6 967.7 L893.4 967.7 L893.4 961.7 L894.3 961.7 L894.3 958.6 L895.2 958.6 L895.2 955.6 L896.0 955.6 L896.0 954.0 L897.3 954.0 L897.3 950.1 L898.6 950.1 L898.6 950.0 L899.9 950.0 L899.9 944.8 L901.2 944.8 L901.2 944.1 L902.5 944.1 L902.5 938.2 L903.4 938.2 L903.4 941.0 L904.2 941.0 L904.2 944.3 L905.1 944.3 L905.1 946.7 L905.9 946.7 L905.9 955.2 L906.8 955.2 L906.8 959.1 L907.2 959.1 L907.2 949.5 L907.6 949.5 L907.6 952.9 L908.0 952.9 L908.0 944.0 L908.4 944.0 L908.4 947.3 L908.8 947.3 L908.8 937.8 L909.2 937.8 L909.2 942.2 L909.6 942.2 L909.6 931.8 L909.9 931.8 L909.9 934.1 L910.3 934.1 L910.3 926.7 L910.7 926.7 L910.7 930.2 L911.1 930.2 L911.1 920.6 L913.3 920.6 L913.3 923.5 L915.4 923.5 L915.4 928.7 L915.9 928.7 L915.9 921.9 L916.4 921.9 L916.4 922.6 L917.0 922.6 L917.0 918.0 L917.5 918.0 L917.5 916.1 L918.0 916.1 L918.0 911.1 L918.5 911.1 L918.5 910.9 L919.0 910.9 L919.0 903.2 L919.5 903.2 L919.5 906.1 L920.0 906.1 L920.0 902.5 L920.5 902.5 L920.5 898.9 L921.0 898.9 L921.0 894.3 L921.8 894.3 L921.8 897.3 L922.5 897.3 L922.5 901.1 L923.3 901.1 L923.3 904.0 L924.0 904.0 L924.0 905.0 L924.7 905.0 L924.7 910.3 L925.5 910.3 L925.5 911.3 L926.2 911.3 L926.2 915.2 L926.7 915.2 L926.7 910.9 L927.2 910.9 L927.2 909.2 L927.6 909.2 L927.6 905.4 L928.1 905.4 L928.1 903.8 L928.6 903.8 L928.6 898.7 L929.1 898.7 L929.1 899.8 L929.6 899.8 L929.6 897.2 L930.0 897.2 L930.0 888.6 L930.5 888.6 L930.5 894.0 L931.2 894.0 L931.2 881.8 L932.0 881.8 L932.0 885.4 L932.7 885.4 L932.7 876.2 L933.4 876.2 L933.4 879.9 L934.1 879.9 L934.1 870.1 L934.8 870.1 L934.8 876.3 L935.8 876.3 L935.8 870.2 L936.7 870.2 L936.7 879.3 L937.6 879.3 L937.6 881.7 L938.5 881.7 L938.5 879.6 L939.4 879.6 L939.4 887.3 L940.4 887.3 L940.4 887.1 L941.3 887.1 L941.3 890.8"/>
<path d="M945.6 860.6 L948.0 860.6 L948.0 856.4 L950.5 856.4 L950.5 852.0 L952.9 852.0 L952.9 857.6 L953.5 857.6 L953.5 848.0 L954.2 848.0 L954.2 850.6 L954.8 850.6 L954.8 841.3 L955.4 841.3 L955.4 843.8 L956.0 843.8 L956.0 840.3 L956.6 840.3 L956.6 834.3 L957.2 834.3 L957.2 832.6"/>
<path d="M962.8 806.7 L963.5 806.7 L963.5 803.2 L964.1 803.2 L964.1 801.9 L964.7 801.9 L964.7 799.1 L965.3 799.1 L965.3 794.5 L965.9 794.5 L965.9 794.1 L966.5 794.1 L966.5 792.4 L967.2 792.4 L967.2 788.9 L968.6 788.9 L968.6 789.7 L970.0 789.7 L970.0 794.9 L971.5 794.9 L971.5 793.5 L972.0 793.5 L972.0 795.3 L972.5 795.3 L972.5 788.4 L973.1 788.4 L973.1 785.9 L973.6 785.9 L973.6 782.2 L974.2 782.2 L974.2 782.9 L974.7 782.9 L974.7 776.4 L975.2 776.4 L975.2 774.8 L975.8 774.8 L975.8 771.2 L979.0 771.2 L979.0 769.7 L982.2 769.7 L982.2 771.1 L983.9 771.1 L983.9 766.5 L985.5 766.5 L985.5 765.4 L987.1 765.4 L987.1 761.1 L988.7 761.1 L988.7 759.3"/>
<path d="M995.2 733.4 L996.1 733.4 L996.1 733.0 L997.0 733.0 L997.0 729.4 L997.9 729.4 L997.9 722.5 L998.9 722.5 L998.9 720.6 L999.8 720.6 L999.8 722.3 L1000.7 722.3 L1000.7 719.5 L1001.6 719.5 L1001.6 711.7 L1002.5 711.7 L1002.5 712.4 L1003.4 712.4 L1003.4 706.3 L1004.2 706.3 L1004.2 706.6 L1005.1 706.6 L1005.1 701.4 L1005.9 701.4 L1005.9 697.4 L1007.4 697.4 L1007.4 693.1 L1008.8 693.1 L1008.8 694.9 L1010.3 694.9 L1010.3 689.8 L1011.9 689.8 L1011.9 694.7 L1013.5 694.7 L1013.5 691.9 L1015.1 691.9 L1015.1 698.6 L1016.7 698.6 L1016.7 701.9 L1017.4 701.9 L1017.4 693.1 L1018.2 693.1 L1018.2 697.6 L1018.9 697.6 L1018.9 686.7 L1019.6 686.7 L1019.6 684.6 L1020.3 684.6 L1020.3 687.2 L1021.0 687.2 L1021.0 679.1 L1021.8 679.1 L1021.8 683.7 L1022.5 683.7 L1022.5 681.3 L1023.2 681.3 L1023.2 669.9 L1024.3 669.9 L1024.3 672.8 L1025.3 672.8 L1025.3 663.4 L1026.4 663.4 L1026.4 667.3 L1027.5 667.3 L1027.5 657.1 L1028.6 657.1 L1028.6 655.6 L1029.7 655.6 L1029.7 658.7 L1031.8 658.7 L1031.8 650.1 L1034.0 650.1 L1034.0 655.3 L1036.1 655.3 L1036.1 652.6 L1038.3 652.6 L1038.3 643.6 L1040.4 643.6 L1040.4 647.3 L1042.6 647.3 L1042.6 639.5 L1044.2 639.5 L1044.2 635.3 L1045.8 635.3 L1045.8 642.5 L1047.4 642.5 L1047.4 631.8 L1049.1 631.8 L1049.1 635.1 L1050.7 635.1 L1050.7 627.5 L1052.3 627.5 L1052.3 625.6 L1053.9 625.6 L1053.9 624.9 L1055.5 624.9 L1055.5 620.8 L1055.8 620.8 L1055.8 619.4 L1056.0 619.4 L1056.0 614.9 L1056.2 614.9 L1056.2 612.1 L1056.5 612.1 L1056.5 609.4 L1056.7 609.4 L1056.7 607.5 L1057.0 607.5 L1057.0 603.6 L1057.2 603.6 L1057.2 602.1 L1057.4 602.1 L1057.4 597.4 L1057.7 597.4 L1057.7 596.3 L1059.8 596.3 L1059.8 596.3 L1062.0 596.3 L1062.0 598.3 L1064.1 598.3 L1064.1 600.1 L1066.3 600.1 L1066.3 601.8 L1068.4 601.8 L1068.4 605.8 L1069.2 605.8 L1069.2 600.7 L1069.9 600.7 L1069.9 598.9 L1070.6 598.9 L1070.6 594.9 L1071.3 594.9 L1071.3 594.8 L1072.0 594.8 L1072.0 592.2 L1072.8 592.2 L1072.8 586.0 L1073.5 586.0 L1073.5 586.1 L1074.2 586.1 L1074.2 580.4 L1074.9 580.4 L1074.9 579.6 L1075.4 579.6 L1075.4 573.1 L1075.9 573.1 L1075.9 576.5 L1076.4 576.5 L1076.4 566.8 L1076.9 566.8 L1076.9 563.1 L1077.4 563.1 L1077.4 565.6 L1077.9 565.6 L1077.9 561.0"/>
<path d="M1080.5 550.3 L1080.7 550.3 L1080.7 544.8 L1080.8 544.8 L1080.8 546.2 L1080.9 546.2 L1080.9 535.9 L1081.1 535.9 L1081.1 534.5 L1081.2 534.5 L1081.2 537.8 L1081.4 537.8 L1081.4 533.7 L1083.0 533.7 L1083.0 531.8 L1084.6 531.8 L1084.6 523.2 L1086.2 523.2 L1086.2 527.6 L1087.8 527.6 L1087.8 516.4 L1089.5 516.4 L1089.5 519.3 L1091.1 519.3 L1091.1 527.3 L1092.7 527.3 L1092.7 526.4 L1094.3 526.4 L1094.3 532.4 L1095.4 532.4 L1095.4 532.6 L1096.5 532.6 L1096.5 538.1 L1097.5 538.1 L1097.5 536.5 L1098.6 536.5 L1098.6 544.7 L1099.2 544.7 L1099.2 542.6 L1099.7 542.6 L1099.7 533.8 L1100.2 533.8 L1100.2 529.8 L1100.8 529.8 L1100.8 532.4 L1101.3 532.4 L1101.3 531.9 L1101.9 531.9 L1101.9 519.0 L1102.4 519.0 L1102.4 525.4 L1102.9 525.4 L1102.9 514.5 L1105.1 514.5 L1105.1 518.6 L1107.2 518.6 L1107.2 511.6 L1109.4 511.6 L1109.4 516.4 L1109.8 516.4 L1109.8 508.1 L1110.3 508.1 L1110.3 509.6 L1110.7 509.6 L1110.7 503.6 L1111.1 503.6 L1111.1 502.4 L1111.6 502.4 L1111.6 498.5"/>
<path d="M1114.6 483.4 L1115.2 483.4 L1115.2 475.0 L1115.9 475.0 L1115.9 480.2 L1116.6 480.2 L1116.6 477.8 L1117.3 477.8 L1117.3 466.1 L1118.0 466.1 L1118.0 472.0 L1118.7 472.0 L1118.7 464.0 L1119.5 464.0 L1119.5 464.0 L1120.2 464.0 L1120.2 459.2 L1120.9 459.2 L1120.9 455.9 L1121.6 455.9 L1121.6 454.8 L1122.3 454.8 L1122.3 450.0 L1122.9 450.0 L1122.9 455.4 L1123.6 455.4 L1123.6 455.3 L1124.2 455.3 L1124.2 458.2 L1124.8 458.2 L1124.8 463.3 L1125.4 463.3 L1125.4 464.3 L1126.0 464.3 L1126.0 468.2 L1126.6 468.2 L1126.6 469.5 L1127.7 469.5 L1127.7 474.6 L1128.8 474.6 L1128.8 476.9 L1129.9 476.9 L1129.9 477.0 L1130.9 477.0 L1130.9 484.0 L1132.0 484.0 L1132.0 482.9 L1133.1 482.9 L1133.1 487.2 L1133.4 487.2 L1133.4 485.7 L1133.7 485.7 L1133.7 481.2 L1134.0 481.2 L1134.0 481.6 L1134.3 481.6 L1134.3 479.0 L1134.6 479.0 L1134.6 477.2 L1135.0 477.2 L1135.0 467.5 L1135.3 467.5 L1135.3 468.4"/>
<path d="M1140.9 495.5 L1141.1 495.5 L1141.1 492.2 L1141.4 492.2 L1141.4 492.2 L1141.7 492.2 L1141.7 488.2 L1142.2 488.2 L1142.2 484.3 L1142.6 484.3 L1142.6 482.2 L1143.0 482.2 L1143.0 477.3 L1143.4 477.3 L1143.4 476.9 L1143.9 476.9 L1143.9 471.9 L1146.0 471.9 L1146.0 470.6 L1148.2 470.6 L1148.2 471.0 L1150.3 471.0 L1150.3 467.2 L1151.2 467.2 L1151.2 465.8 L1152.1 465.8 L1152.1 461.0 L1152.9 461.0 L1152.9 459.9 L1153.8 459.9 L1153.8 458.3 L1154.7 458.3 L1154.7 452.4 L1155.5 452.4 L1155.5 451.0 L1156.3 451.0 L1156.3 446.0 L1157.1 446.0 L1157.1 447.5 L1157.9 447.5 L1157.9 443.9 L1158.7 443.9 L1158.7 440.1 L1159.5 440.1 L1159.5 434.8 L1160.3 434.8 L1160.3 434.6 L1161.1 434.6 L1161.1 427.3 L1161.8 427.3 L1161.8 436.5 L1162.6 436.5 L1162.6 438.8 L1163.3 438.8 L1163.3 440.7 L1164.0 440.7 L1164.0 440.1 L1164.7 440.1 L1164.7 447.4 L1165.4 447.4 L1165.4 445.6 L1166.1 445.6 L1166.1 450.2 L1166.9 450.2 L1166.9 453.3 L1167.6 453.3 L1167.6 456.6 L1167.9 456.6 L1167.9 453.4 L1168.2 453.4 L1168.2 448.8 L1168.5 448.8 L1168.5 446.6 L1168.8 446.6 L1168.8 440.6 L1169.1 440.6 L1169.1 440.7 L1169.4 440.7 L1169.4 436.1 L1169.7 436.1 L1169.7 434.5 L1171.9 434.5 L1171.9 435.4 L1174.1 435.4 L1174.1 439.7 L1174.5 439.7 L1174.5 445.0 L1175.0 445.0 L1175.0 442.3 L1175.5 442.3 L1175.5 448.8 L1176.0 448.8 L1176.0 449.7 L1176.4 449.7 L1176.4 454.4 L1176.9 454.4 L1176.9 456.0 L1177.4 456.0 L1177.4 457.5 L1177.9 457.5 L1177.9 464.8 L1178.4 464.8 L1178.4 466.2"/>
<path d="M1177.8 464.1 L1180.0 464.1 L1180.0 458.4 L1181.3 458.4 L1181.3 457.4 L1182.6 457.4 L1182.6 454.0 L1183.9 454.0 L1183.9 456.6 L1185.2 456.6 L1185.2 448.1 L1186.3 448.1 L1186.3 451.8 L1187.4 451.8 L1187.4 461.4 L1188.5 461.4 L1188.5 455.0 L1189.7 455.0 L1189.7 466.3 L1190.8 466.3 L1190.8 462.8 L1192.9 462.8 L1192.9 466.9 L1195.1 466.9 L1195.1 462.0 L1197.2 462.0 L1197.2 463.6 L1197.9 463.6 L1197.9 463.9 L1198.5 463.9 L1198.5 468.6 L1199.1 468.6 L1199.1 469.1 L1199.7 469.1 L1199.7 475.7 L1200.3 475.7 L1200.3 478.1 L1200.9 478.1 L1200.9 479.3 L1201.6 479.3 L1201.6 484.2 L1201.9 484.2 L1201.9 485.6 L1202.3 485.6 L1202.3 488.0 L1202.6 488.0 L1202.6 490.4 L1203.0 490.4 L1203.0 495.5 L1203.3 495.5 L1203.3 497.1 L1203.7 497.1 L1203.7 500.7"/>
<path d="M1208.0 477.0 L1209.3 477.0 L1209.3 477.6 L1210.6 477.6 L1210.6 486.9 L1211.9 486.9 L1211.9 490.7 L1213.2 490.7 L1213.2 486.3 L1214.5 486.3 L1214.5 494.8 L1215.3 494.8 L1215.3 492.9 L1216.2 492.9 L1216.2 498.4 L1217.1 498.4 L1217.1 499.2 L1217.9 499.2 L1217.9 503.2 L1218.8 503.2 L1218.8 504.2 L1219.1 504.2 L1219.1 503.0 L1219.4 503.0 L1219.4 498.8 L1219.7 498.8 L1219.7 497.6 L1220.0 497.6 L1220.0 493.2 L1220.3 493.2 L1220.3 492.5 L1220.6 492.5 L1220.6 489.8 L1220.9 489.8 L1220.9 482.8 L1221.9 482.8 L1221.9 490.9 L1222.8 490.9 L1222.8 486.9 L1223.7 486.9 L1223.7 489.1 L1224.6 489.1 L1224.6 499.4 L1225.6 499.4 L1225.6 501.9 L1226.5 501.9 L1226.5 504.7 L1227.4 504.7 L1227.4 501.9 L1229.0 501.9 L1229.0 510.0 L1230.6 510.0 L1230.6 507.5 L1232.3 507.5 L1232.3 509.6 L1233.9 509.6 L1233.9 515.6 L1234.6 515.6 L1234.6 515.8 L1235.3 515.8 L1235.3 520.3 L1236.0 520.3 L1236.0 521.2 L1236.8 521.2 L1236.8 527.2 L1237.5 527.2 L1237.5 532.2 L1238.2 532.2 L1238.2 528.5 L1239.8 528.5 L1239.8 532.2 L1241.4 532.2 L1241.4 535.7 L1243.0 535.7 L1243.0 535.7 L1244.7 535.7 L1244.7 540.7 L1245.4 540.7 L1245.4 545.4 L1246.1 545.4 L1246.1 544.0 L1246.8 544.0 L1246.8 549.9 L1247.5 549.9 L1247.5 549.3 L1248.2 549.3 L1248.2 557.3 L1249.0 557.3 L1249.0 554.2 L1250.6 554.2 L1250.6 557.7 L1252.2 557.7 L1252.2 549.4 L1253.8 549.4 L1253.8 552.5 L1255.4 552.5 L1255.4 545.3 L1255.9 545.3 L1255.9 549.6 L1256.4 549.6 L1256.4 555.1 L1256.9 555.1 L1256.9 553.7 L1257.3 553.7 L1257.3 557.6 L1257.8 557.6 L1257.8 565.6 L1258.3 565.6 L1258.3 562.7 L1258.8 562.7 L1258.8 573.5 L1259.3 573.5 L1259.3 568.7 L1259.7 568.7 L1259.7 570.1 L1260.1 570.1 L1260.1 582.1 L1260.5 582.1 L1260.5 576.8 L1260.8 576.8 L1260.8 587.6 L1261.2 587.6 L1261.2 581.7 L1261.5 581.7 L1261.5 590.6 L1261.9 590.6 L1261.9 591.2"/>
<path d="M1266.2 602.0 L1267.1 602.0 L1267.1 607.3 L1268.1 607.3 L1268.1 611.4 L1269.0 611.4 L1269.0 607.3 L1269.9 607.3 L1269.9 614.5 L1270.8 614.5 L1270.8 614.1 L1271.7 614.1 L1271.7 621.5 L1272.7 621.5 L1272.7 623.1 L1274.1 623.1 L1274.1 621.3 L1275.5 621.3 L1275.5 623.6 L1277.0 623.6 L1277.0 631.2 L1277.6 631.2 L1277.6 626.7 L1278.2 626.7 L1278.2 636.5 L1278.8 636.5 L1278.8 640.4 L1279.4 640.4 L1279.4 635.8 L1280.1 635.8 L1280.1 648.6 L1280.7 648.6 L1280.7 642.7 L1281.3 642.7 L1281.3 654.0 L1282.2 654.0 L1282.2 655.1 L1283.0 655.1 L1283.0 654.1 L1283.9 654.1 L1283.9 656.4 L1284.7 656.4 L1284.7 663.3 L1285.6 663.3 L1285.6 664.0 L1288.0 664.0 L1288.0 663.9 L1290.5 663.9 L1290.5 660.5 L1292.9 660.5 L1292.9 663.4 L1293.6 663.4 L1293.6 660.5 L1294.2 660.5 L1294.2 664.7 L1294.9 664.7 L1294.9 671.8 L1295.5 671.8 L1295.5 673.1"/>
<path d="M1298.5 686.0 L1299.1 686.0 L1299.1 687.6 L1299.6 687.6 L1299.6 693.7 L1300.2 693.7 L1300.2 695.2 L1300.7 695.2 L1300.7 699.0"/>
<path d="M1302.8 716.2 L1303.1 716.2 L1303.1 721.6 L1303.3 721.6 L1303.3 717.0 L1303.6 717.0 L1303.6 728.2 L1303.8 728.2 L1303.8 724.2 L1304.0 724.2 L1304.0 733.4 L1304.3 733.4 L1304.3 735.0 L1304.5 735.0 L1304.5 733.8 L1304.8 733.8 L1304.8 741.5 L1305.0 741.5 L1305.0 738.8 L1306.1 738.8 L1306.1 746.1 L1307.2 746.1 L1307.2 745.0 L1308.2 745.0 L1308.2 748.8 L1309.3 748.8 L1309.3 755.9 L1310.4 755.9 L1310.4 753.2 L1311.5 753.2 L1311.5 760.5 L1312.5 760.5 L1312.5 759.7 L1313.6 759.7 L1313.6 762.3 L1315.8 762.3 L1315.8 767.1 L1317.9 767.1 L1317.9 770.0 L1320.1 770.0 L1320.1 765.1 L1322.2 765.1 L1322.2 767.1 L1323.5 767.1 L1323.5 776.3 L1324.8 776.3 L1324.8 771.3 L1326.1 771.3 L1326.1 775.2 L1327.4 775.2 L1327.4 787.2 L1328.7 787.2 L1328.7 785.2"/>
<path d="M1330.9 802.4 L1331.5 802.4 L1331.5 800.9 L1332.1 800.9 L1332.1 805.0 L1332.7 805.0 L1332.7 817.0 L1333.3 817.0 L1333.3 818.3 L1333.9 818.3 L1333.9 819.7 L1334.6 819.7 L1334.6 819.7 L1335.2 819.7 L1335.2 822.4 L1335.8 822.4 L1335.8 829.1 L1336.4 829.1 L1336.4 825.8 L1337.0 825.8 L1337.0 835.0 L1337.6 835.0 L1337.6 838.7 L1338.3 838.7 L1338.3 842.8 L1338.9 842.8 L1338.9 838.8 L1339.5 838.8 L1339.5 841.9 L1340.3 841.9 L1340.3 848.0 L1341.2 848.0 L1341.2 848.1 L1342.1 848.1 L1342.1 853.4 L1342.9 853.4 L1342.9 854.7 L1343.8 854.7 L1343.8 857.6 L1347.0 857.6 L1347.0 860.5 L1350.3 860.5 L1350.3 857.4 L1350.3 857.4 L1350.3 861.9 L1350.3 861.9 L1350.3 864.7 L1350.3 864.7 L1350.3 867.5 L1350.3 867.5 L1350.3 869.2"/>
<path d="M1354.6 886.5 L1355.4 886.5 L1355.4 891.5 L1356.3 891.5 L1356.3 889.1 L1357.2 889.1 L1357.2 899.2 L1358.0 899.2 L1358.0 894.3 L1358.9 894.3 L1358.9 895.8 L1359.8 895.8 L1359.8 898.1 L1360.7 898.1 L1360.7 908.9 L1361.7 908.9 L1361.7 910.9 L1362.6 910.9 L1362.6 906.8 L1363.5 906.8 L1363.5 918.4 L1364.4 918.4 L1364.4 910.7 L1365.3 910.7 L1365.3 915.7 L1368.6 915.7 L1368.6 922.2 L1371.8 922.2 L1371.8 914.1 L1372.5 914.1 L1372.5 923.7 L1373.2 923.7 L1373.2 927.6 L1374.0 927.6 L1374.0 924.5 L1374.7 924.5 L1374.7 934.5 L1375.4 934.5 L1375.4 935.9 L1376.1 935.9 L1376.1 931.7 L1376.8 931.7 L1376.8 934.7 L1377.6 934.7 L1377.6 937.9 L1378.3 937.9 L1378.3 947.7 L1379.0 947.7 L1379.0 952.5 L1379.7 952.5 L1379.7 946.7 L1380.4 946.7 L1380.4 958.1 L1380.7 958.1 L1380.7 954.1 L1381.0 954.1 L1381.0 962.8 L1381.4 962.8 L1381.4 959.1 L1381.7 959.1 L1381.7 969.2 L1382.0 969.2 L1382.0 965.4 L1382.3 965.4 L1382.3 976.5 L1382.6 976.5 L1382.6 971.1 L1383.7 971.1 L1383.7 974.6 L1384.7 974.6 L1384.7 983.4 L1385.8 983.4 L1385.8 979.2 L1386.9 979.2 L1386.9 982.8 L1388.0 982.8 L1388.0 985.4 L1389.1 985.4 L1389.1 994.7 L1390.5 994.7 L1390.5 990.2 L1391.9 990.2 L1391.9 1003.1 L1393.4 1003.1 L1393.4 998.3 L1394.2 998.3 L1394.2 994.1 L1395.1 994.1 L1395.1 993.1 L1395.9 993.1 L1395.9 996.5 L1396.8 996.5 L1396.8 986.6 L1397.7 986.6 L1397.7 984.5 L1398.3 984.5 L1398.3 987.5 L1398.9 987.5 L1398.9 979.2 L1399.5 979.2 L1399.5 980.8 L1400.1 980.8 L1400.1 972.6 L1400.8 972.6 L1400.8 974.3 L1401.4 974.3 L1401.4 966.2 L1402.0 966.2 L1402.0 968.5 L1403.3 968.5 L1403.3 973.3 L1404.6 973.3 L1404.6 968.3 L1405.9 968.3 L1405.9 970.6 L1407.2 970.6 L1407.2 972.9 L1408.4 972.9 L1408.4 983.8 L1409.1 983.8 L1409.1 978.7 L1409.7 978.7 L1409.7 988.8 L1410.3 988.8 L1410.3 986.6 L1410.9 986.6 L1410.9 992.8 L1411.5 992.8 L1411.5 992.4 L1412.1 992.4 L1412.1 997.0 L1412.8 997.0 L1412.8 1001.2 L1413.5 1001.2 L1413.5 1003.0 L1414.2 1003.0 L1414.2 1005.9 L1414.9 1005.9 L1414.9 1010.7 L1415.6 1010.7 L1415.6 1010.3 L1416.4 1010.3 L1416.4 1017.8 L1417.1 1017.8 L1417.1 1019.7 L1420.3 1019.7 L1420.3 1015.0 L1423.5 1015.0 L1423.5 1016.4 L1424.6 1016.4 L1424.6 1017.9 L1425.7 1017.9 L1425.7 1022.4 L1426.8 1022.4 L1426.8 1023.0 L1427.8 1023.0 L1427.8 1023.9 L1428.9 1023.9 L1428.9 1028.7 L1430.0 1028.7 L1430.0 1035.0 L1430.3 1035.0 L1430.3 1027.8 L1430.6 1027.8 L1430.6 1029.4 L1430.9 1029.4 L1430.9 1023.0 L1431.2 1023.0 L1431.2 1023.1 L1431.5 1023.1 L1431.5 1017.4 L1431.8 1017.4 L1431.8 1019.3 L1432.2 1019.3 L1432.2 1017.4 L1433.4 1017.4 L1433.4 1008.5 L1434.7 1008.5 L1434.7 1011.9 L1436.0 1011.9 L1436.0 1003.0 L1437.3 1003.0 L1437.3 1006.5 L1438.6 1006.5 L1438.6 1000.7"/>
<path d="M1443.8 1017.1 L1447.1 1017.1 L1447.1 1014.3 L1450.4 1014.3 L1450.4 1013.3 L1453.7 1013.3 L1453.7 1019.3 L1454.1 1019.3 L1454.1 1021.8 L1454.5 1021.8 L1454.5 1026.8 L1454.8 1026.8 L1454.8 1028.0 L1455.2 1028.0 L1455.2 1026.1 L1455.6 1026.1 L1455.6 1032.0 L1456.0 1032.0 L1456.0 1030.6 L1456.3 1030.6 L1456.3 1041.2 L1456.7 1041.2 L1456.7 1039.5"/>
<path d="M1462.3 1000.7 L1463.0 1000.7 L1463.0 1006.0 L1463.8 1006.0 L1463.8 1004.5 L1464.5 1004.5 L1464.5 1011.1 L1465.2 1011.1 L1465.2 1010.6 L1465.9 1010.6 L1465.9 1017.5 L1466.6 1017.5 L1466.6 1014.2 L1467.4 1014.2 L1467.4 1017.3 L1468.3 1017.3 L1468.3 1014.0 L1469.1 1014.0 L1469.1 1008.3 L1469.9 1008.3 L1469.9 1006.7 L1470.7 1006.7 L1470.7 1002.1 L1471.5 1002.1 L1471.5 1000.6 L1472.3 1000.6 L1472.3 996.5 L1473.1 996.5 L1473.1 995.6 L1473.6 995.6 L1473.6 995.6 L1474.1 995.6 L1474.1 1001.9 L1474.6 1001.9 L1474.6 1004.4 L1475.1 1004.4 L1475.1 1007.6 L1475.6 1007.6 L1475.6 1006.5 L1476.1 1006.5 L1476.1 1009.5 L1476.6 1009.5 L1476.6 1013.6"/>
<path d="M1481.7 1024.4 L1482.0 1024.4 L1482.0 1020.6 L1482.3 1020.6 L1482.3 1019.3 L1482.5 1019.3 L1482.5 1016.4 L1482.8 1016.4 L1482.8 1011.8 L1483.1 1011.8 L1483.1 1008.9 L1483.3 1008.9 L1483.3 1006.1 L1483.6 1006.1 L1483.6 1004.4 L1483.9 1004.4 L1483.9 1001.9 L1484.7 1001.9 L1484.7 994.6 L1485.5 994.6 L1485.5 998.3 L1486.3 998.3 L1486.3 990.0 L1487.1 990.0 L1487.1 993.4 L1487.9 993.4 L1487.9 985.6 L1488.7 985.6 L1488.7 981.3 L1489.5 981.3 L1489.5 983.6 L1490.3 983.6 L1490.3 976.5 L1491.1 976.5 L1491.1 977.8 L1491.8 977.8 L1491.8 976.9 L1492.5 976.9 L1492.5 969.1 L1493.2 969.1 L1493.2 970.3 L1493.9 970.3 L1493.9 967.3 L1494.7 967.3 L1494.7 959.0 L1495.9 959.0 L1495.9 962.1 L1497.2 962.1 L1497.2 953.9 L1498.5 953.9 L1498.5 958.7 L1499.8 958.7 L1499.8 956.3 L1501.1 956.3 L1501.1 945.5 L1501.4 945.5 L1501.4 950.1 L1501.6 950.1 L1501.6 959.6 L1501.8 959.6 L1501.8 955.5 L1502.1 955.5 L1502.1 963.9 L1502.3 963.9 L1502.3 959.4 L1502.6 959.4 L1502.6 962.2 L1502.8 962.2 L1502.8 974.2 L1503.0 974.2 L1503.0 970.7 L1503.3 970.7 L1503.3 973.3 L1503.8 973.3 L1503.8 968.7 L1504.4 968.7 L1504.4 973.9 L1504.9 973.9 L1504.9 963.3 L1505.4 963.3 L1505.4 969.7 L1506.0 969.7 L1506.0 958.7 L1506.5 958.7 L1506.5 956.0 L1507.0 956.0 L1507.0 960.9 L1507.6 960.9 L1507.6 950.1 L1508.1 950.1 L1508.1 952.9 L1508.7 952.9 L1508.7 949.7 L1509.2 949.7 L1509.2 939.0 L1509.7 939.0 L1509.7 936.9 L1510.5 936.9 L1510.5 947.1 L1511.2 947.1 L1511.2 942.7 L1511.9 942.7 L1511.9 952.3 L1512.6 952.3 L1512.6 949.0 L1513.3 949.0 L1513.3 956.1 L1514.1 956.1 L1514.1 956.4 L1514.8 956.4 L1514.8 952.5 L1515.6 952.5 L1515.6 950.4 L1516.3 950.4 L1516.3 948.5 L1517.1 948.5 L1517.1 944.7"/>
<path d="M1520.0 944.7 L1520.6 944.7 L1520.6 939.3 L1521.2 939.3 L1521.2 943.5 L1521.8 943.5 L1521.8 937.7 L1522.5 937.7 L1522.5 936.6 L1523.1 936.6 L1523.1 926.8 L1523.7 926.8 L1523.7 930.7 L1524.3 930.7 L1524.3 919.9 L1525.7 919.9 L1525.7 930.1 L1527.2 930.1 L1527.2 926.0 L1528.6 926.0 L1528.6 933.0 L1529.0 933.0 L1529.0 925.0 L1529.3 925.0 L1529.3 927.9 L1529.7 927.9 L1529.7 920.0 L1530.1 920.0 L1530.1 923.1 L1530.4 923.1 L1530.4 913.6 L1530.8 913.6 L1530.8 917.8 L1531.1 917.8 L1531.1 908.6 L1531.5 908.6 L1531.5 913.4 L1531.9 913.4 L1531.9 902.9 L1532.2 902.9 L1532.2 904.6 L1532.6 904.6 L1532.6 899.4 L1532.9 899.4 L1532.9 897.9 L1534.0 897.9 L1534.0 899.3 L1535.1 899.3 L1535.1 903.2 L1536.2 903.2 L1536.2 906.0 L1537.2 906.0 L1537.2 907.3 L1537.9 907.3 L1537.9 904.0 L1538.5 904.0 L1538.5 904.4 L1539.2 904.4 L1539.2 897.5 L1539.8 897.5 L1539.8 898.1 L1540.5 898.1 L1540.5 895.2 L1541.1 895.2 L1541.1 887.1 L1541.8 887.1 L1541.8 889.6 L1542.4 889.6 L1542.4 881.2 L1543.1 881.2 L1543.1 882.2 L1543.7 882.2 L1543.7 876.2 L1544.6 876.2 L1544.6 883.0 L1545.6 883.0 L1545.6 881.7 L1546.5 881.7 L1546.5 888.6 L1547.4 888.6 L1547.4 884.9 L1548.3 884.9 L1548.3 889.4 L1549.2 889.4 L1549.2 897.1 L1550.2 897.1 L1550.2 896.6 L1550.5 896.6 L1550.5 894.9 L1550.9 894.9 L1550.9 889.6 L1551.2 889.6 L1551.2 889.4 L1551.6 889.4 L1551.6 883.3 L1552.0 883.3 L1552.0 880.4 L1552.3 880.4 L1552.3 880.0"/>
<path d="M1556.6 873.5 L1557.1 873.5 L1557.1 865.5 L1557.5 865.5 L1557.5 864.3 L1557.9 864.3 L1557.9 862.3 L1558.4 862.3 L1558.4 863.9 L1558.8 863.9 L1558.8 857.8 L1560.1 857.8 L1560.1 857.8 L1561.4 857.8 L1561.4 852.2 L1562.7 852.2 L1562.7 852.1 L1564.0 852.1 L1564.0 848.6 L1565.3 848.6 L1565.3 845.5"/>
<path d="M1569.6 815.3 L1569.8 815.3 L1569.8 810.1 L1569.9 810.1 L1569.9 809.7 L1570.1 809.7 L1570.1 805.3 L1570.3 805.3 L1570.3 805.5 L1570.5 805.5 L1570.5 795.7 L1570.7 795.7 L1570.7 800.8 L1570.9 800.8 L1570.9 792.2 L1572.6 792.2 L1572.6 794.3 L1574.3 794.3 L1574.3 799.4 L1576.0 799.4 L1576.0 798.3 L1576.9 798.3 L1576.9 798.2 L1577.8 798.2 L1577.8 795.6 L1578.6 795.6 L1578.6 789.5 L1579.5 789.5 L1579.5 791.0 L1580.3 791.0 L1580.3 781.8 L1582.5 781.8 L1582.5 787.2 L1584.7 787.2 L1584.7 778.1 L1586.8 778.1 L1586.8 781.6 L1587.7 781.6 L1587.7 774.6 L1588.5 774.6 L1588.5 773.9 L1589.4 773.9 L1589.4 772.1 L1590.3 772.1 L1590.3 768.8 L1591.1 768.8 L1591.1 766.8 L1593.3 766.8 L1593.3 759.9 L1595.4 759.9 L1595.4 757.7 L1597.6 757.7 L1597.6 758.3 L1599.7 758.3 L1599.7 754.4 L1600.4 754.4 L1600.4 752.6 L1601.0 752.6 L1601.0 747.3 L1601.7 747.3 L1601.7 747.9 L1602.3 747.9 L1602.3 740.2 L1603.0 740.2 L1603.0 741.8 L1603.6 741.8 L1603.6 739.3 L1604.3 739.3 L1604.3 730.5 L1604.9 730.5 L1604.9 729.4 L1605.6 729.4 L1605.6 726.7 L1606.2 726.7 L1606.2 724.8"/>
<path d="M1617.0 668.8 L1617.0 668.8 L1617.0 668.5 L1617.0 668.5 L1617.0 678.0 L1617.0 678.0 L1617.0 676.5 L1617.0 676.5 L1617.0 681.6 L1617.0 681.6 L1617.0 683.2 L1617.0 683.2 L1617.0 688.4 L1617.0 688.4 L1617.0 692.4 L1617.0 692.4 L1617.0 690.5 L1617.0 690.5 L1617.0 698.1 L1617.0 698.1 L1617.0 698.0 L1618.3 698.0 L1618.3 702.7 L1619.6 702.7 L1619.6 705.7 L1620.9 705.7 L1620.9 707.5 L1622.2 707.5 L1622.2 712.3 L1623.4 712.3 L1623.4 713.3 L1624.7 713.3 L1624.7 713.2 L1626.0 713.2 L1626.0 706.4 L1627.3 706.4 L1627.3 708.1 L1628.6 708.1 L1628.6 702.0 L1629.9 702.0 L1629.9 701.1"/>
<path d="M1632.9 690.3 L1633.5 690.3 L1633.5 684.8 L1634.1 684.8 L1634.1 688.5 L1634.7 688.5 L1634.7 679.0 L1635.2 679.0 L1635.2 680.9 L1635.8 680.9 L1635.8 672.9 L1636.4 672.9 L1636.4 677.4 L1637.8 677.4 L1637.8 666.6 L1639.3 666.6 L1639.3 670.5 L1640.7 670.5 L1640.7 668.5 L1640.9 668.5 L1640.9 666.2 L1641.0 666.2 L1641.0 654.5 L1641.2 654.5 L1641.2 657.0 L1641.4 657.0 L1641.4 651.8 L1641.6 651.8 L1641.6 647.4 L1644.1 647.4 L1644.1 651.3 L1646.7 651.3 L1646.7 649.4 L1649.3 649.4 L1649.3 650.6 L1650.9 650.6 L1650.9 649.5 L1652.5 649.5 L1652.5 645.7 L1654.2 645.7 L1654.2 644.2 L1655.8 644.2 L1655.8 639.4 L1656.4 639.4 L1656.4 634.9 L1657.0 634.9 L1657.0 636.2 L1657.6 636.2 L1657.6 630.4 L1658.2 630.4 L1658.2 630.5 L1658.9 630.5 L1658.9 623.7 L1659.5 623.7 L1659.5 619.3 L1660.1 619.3 L1660.1 620.6 L1661.7 620.6 L1661.7 618.6 L1663.3 618.6 L1663.3 626.5 L1664.9 626.5 L1664.9 622.8 L1666.6 622.8 L1666.6 630.8 L1667.0 630.8 L1667.0 621.1 L1667.5 621.1 L1667.5 625.6 L1668.0 625.6 L1668.0 616.3 L1668.5 616.3 L1668.5 612.4 L1668.9 612.4 L1668.9 615.8 L1669.4 615.8 L1669.4 604.5 L1669.9 604.5 L1669.9 609.9 L1670.4 609.9 L1670.4 604.6 L1670.9 604.6 L1670.9 598.8 L1673.0 598.8 L1673.0 605.1 L1675.2 605.1 L1675.2 601.8 L1677.3 601.8 L1677.3 607.7 L1678.0 607.7 L1678.0 605.9 L1678.7 605.9 L1678.7 601.5 L1679.4 601.5 L1679.4 599.4 L1680.1 599.4 L1680.1 597.1 L1680.8 597.1 L1680.8 588.9 L1681.5 588.9 L1681.5 590.5 L1682.2 590.5 L1682.2 581.6 L1682.9 581.6 L1682.9 579.2 L1683.8 579.2 L1683.8 574.2 L1684.7 574.2 L1684.7 571.9 L1685.5 571.9 L1685.5 577.1 L1686.4 577.1 L1686.4 566.9 L1687.2 566.9 L1687.2 564.9 L1688.1 564.9 L1688.1 560.2 L1688.7 560.2 L1688.7 558.7 L1689.3 558.7 L1689.3 561.7 L1690.0 561.7 L1690.0 552.1 L1690.6 552.1 L1690.6 548.7 L1691.2 548.7 L1691.2 553.6 L1691.8 553.6 L1691.8 543.9 L1692.4 543.9 L1692.4 542.1 L1692.8 542.1 L1692.8 541.7 L1693.3 541.7 L1693.3 537.2 L1693.7 537.2 L1693.7 533.4 L1694.1 533.4 L1694.1 529.9 L1694.6 529.9 L1694.6 531.4 L1696.7 531.4 L1696.7 527.8 L1698.9 527.8 L1698.9 528.8 L1701.0 528.8 L1701.0 540.3 L1703.2 540.3 L1703.2 532.9 L1705.3 532.9 L1705.3 533.8 L1707.5 533.8 L1707.5 537.7 L1708.2 537.7 L1708.2 539.9 L1708.9 539.9 L1708.9 531.0 L1709.7 531.0 L1709.7 527.6 L1710.4 527.6 L1710.4 531.4 L1711.1 531.4 L1711.1 527.8 L1711.8 527.8 L1711.8 520.2 L1712.7 520.2 L1712.7 522.3 L1713.5 522.3 L1713.5 515.0 L1714.4 515.0 L1714.4 517.5 L1715.3 517.5 L1715.3 514.1 L1716.1 514.1 L1716.1 510.8 L1717.4 510.8 L1717.4 503.2 L1718.7 503.2 L1718.7 509.4 L1720.0 509.4 L1720.0 498.3 L1721.3 498.3 L1721.3 493.6 L1722.6 493.6 L1722.6 496.4"/>
<path d="M1726.9 477.0 L1727.8 477.0 L1727.8 471.3 L1728.7 471.3 L1728.7 467.7 L1729.6 467.7 L1729.6 472.4 L1730.6 472.4 L1730.6 462.4 L1731.5 462.4 L1731.5 465.9 L1732.4 465.9 L1732.4 458.1 L1733.3 458.1 L1733.3 460.2 L1734.2 460.2 L1734.2 457.8 L1734.8 457.8 L1734.8 454.5 L1735.3 454.5 L1735.3 464.3 L1735.9 464.3 L1735.9 466.7 L1736.5 466.7 L1736.5 463.7 L1737.0 463.7 L1737.0 466.2 L1737.6 466.2 L1737.6 474.3 L1738.1 474.3 L1738.1 471.2 L1738.7 471.2 L1738.7 479.8 L1739.3 479.8 L1739.3 478.7 L1739.8 478.7 L1739.8 484.4 L1740.7 484.4 L1740.7 479.8 L1741.6 479.8 L1741.6 478.0 L1742.4 478.0 L1742.4 471.8 L1743.3 471.8 L1743.3 473.4 L1744.1 473.4 L1744.1 468.4"/>
<path d="M1752.8 496.4 L1753.0 496.4 L1753.0 492.6 L1753.3 492.6 L1753.3 492.3 L1753.6 492.3 L1753.6 485.4 L1753.8 485.4 L1753.8 486.4 L1754.1 486.4 L1754.1 479.4 L1754.4 479.4 L1754.4 481.2 L1754.6 481.2 L1754.6 472.2 L1754.9 472.2 L1754.9 476.0 L1758.1 476.0 L1758.1 474.4 L1761.4 474.4 L1761.4 474.5 L1762.0 474.5 L1762.0 464.6 L1762.6 464.6 L1762.6 468.8 L1763.2 468.8 L1763.2 458.1 L1763.8 458.1 L1763.8 463.0 L1764.5 463.0 L1764.5 453.0 L1765.1 453.0 L1765.1 458.1 L1765.7 458.1 L1765.7 447.1 L1767.2 447.1 L1767.2 452.4 L1768.8 452.4 L1768.8 442.2 L1770.3 442.2 L1770.3 448.2 L1771.9 448.2 L1771.9 437.3 L1773.4 437.3 L1773.4 442.8 L1774.5 442.8 L1774.5 439.3 L1775.5 439.3 L1775.5 447.2 L1776.6 447.2 L1776.6 444.5 L1777.6 444.5 L1777.6 446.4 L1778.6 446.4 L1778.6 453.3"/>
<path d="M1778.7 451.1 L1779.0 451.1 L1779.0 443.2 L1779.4 443.2 L1779.4 450.2 L1779.7 450.2 L1779.7 440.0 L1780.0 440.0 L1780.0 436.0 L1780.7 436.0 L1780.7 446.1 L1781.4 446.1 L1781.4 442.6 L1782.2 442.6 L1782.2 451.6 L1782.9 451.6 L1782.9 449.1 L1783.6 449.1 L1783.6 459.8 L1784.3 459.8 L1784.3 454.5 L1786.0 454.5 L1786.0 451.6 L1787.8 451.6 L1787.8 456.0 L1789.5 456.0 L1789.5 448.2 L1790.0 448.2 L1790.0 455.2 L1790.5 455.2 L1790.5 455.9 L1791.0 455.9 L1791.0 460.5 L1791.5 460.5 L1791.5 461.2 L1791.9 461.2 L1791.9 461.9 L1792.4 461.9 L1792.4 469.8 L1792.9 469.8 L1792.9 469.0 L1793.7 469.0 L1793.7 464.7 L1794.5 464.7 L1794.5 463.5 L1795.4 463.5 L1795.4 464.9 L1796.2 464.9 L1796.2 462.2 L1797.0 462.2 L1797.0 454.3 L1797.8 454.3 L1797.8 457.9 L1798.6 457.9 L1798.6 456.1 L1799.4 456.1 L1799.4 445.3 L1800.3 445.3 L1800.3 456.0 L1801.1 456.0 L1801.1 457.3 L1802.0 457.3 L1802.0 458.5 L1802.8 458.5 L1802.8 462.2 L1803.7 462.2 L1803.7 456.7 L1804.8 456.7 L1804.8 469.9 L1805.9 469.9 L1805.9 469.4 L1806.9 469.4 L1806.9 467.1 L1808.0 467.1 L1808.0 474.4 L1809.1 474.4 L1809.1 473.3 L1810.2 473.3 L1810.2 480.3 L1811.2 480.3 L1811.2 477.8 L1812.3 477.8 L1812.3 483.4"/>
<path d="M1815.8 500.7 L1816.1 500.7 L1816.1 501.7 L1816.4 501.7 L1816.4 499.8 L1816.8 499.8 L1816.8 495.8 L1817.1 495.8 L1817.1 486.1 L1817.5 486.1 L1817.5 490.9 L1817.8 490.9 L1817.8 486.4 L1818.1 486.4 L1818.1 476.7 L1818.5 476.7 L1818.5 481.5 L1818.8 481.5 L1818.8 473.5 L1819.7 473.5 L1819.7 475.6 L1820.6 475.6 L1820.6 483.5 L1821.6 483.5 L1821.6 478.8 L1822.5 478.8 L1822.5 488.9 L1823.4 488.9 L1823.4 487.3 L1824.3 487.3 L1824.3 492.6 L1825.3 492.6 L1825.3 494.9 L1826.9 494.9 L1826.9 489.5 L1828.5 489.5 L1828.5 487.1 L1830.1 487.1 L1830.1 491.1 L1831.7 491.1 L1831.7 482.3 L1832.4 482.3 L1832.4 492.5 L1833.2 492.5 L1833.2 488.1 L1833.9 488.1 L1833.9 491.1 L1834.6 491.1 L1834.6 501.0 L1835.3 501.0 L1835.3 496.9 L1836.0 496.9 L1836.0 505.7 L1838.2 505.7 L1838.2 508.5 L1840.3 508.5 L1840.3 509.3 L1842.5 509.3 L1842.5 512.1 L1843.2 512.1 L1843.2 515.8 L1843.9 515.8 L1843.9 512.3 L1844.7 512.3 L1844.7 520.6 L1845.4 520.6 L1845.4 516.2 L1846.1 516.2 L1846.1 529.0 L1846.8 529.0 L1846.8 521.4 L1847.5 521.4 L1847.5 533.8 L1848.2 533.8 L1848.2 535.2 L1849.0 535.2 L1849.0 532.4 L1849.7 532.4 L1849.7 542.2 L1850.4 542.2 L1850.4 544.3 L1851.1 544.3 L1851.1 548.5 L1854.4 548.5 L1854.4 540.0 L1857.6 540.0 L1857.6 545.3 L1858.1 545.3 L1858.1 543.0 L1858.5 543.0 L1858.5 545.3 L1859.0 545.3 L1859.0 552.6 L1859.5 552.6 L1859.5 554.6 L1860.0 554.6 L1860.0 551.9 L1860.5 551.9 L1860.5 563.2 L1860.9 563.2 L1860.9 559.6 L1861.4 559.6 L1861.4 561.7 L1861.9 561.7 L1861.9 570.7 L1863.0 570.7 L1863.0 559.8 L1864.1 559.8 L1864.1 557.3 L1865.1 557.3 L1865.1 563.6 L1866.2 563.6 L1866.2 550.8 L1867.3 550.8 L1867.3 555.8 L1868.4 555.8 L1868.4 547.4 L1868.6 547.4 L1868.6 554.9 L1868.8 554.9 L1868.8 554.8 L1869.1 554.8 L1869.1 560.2 L1869.3 560.2 L1869.3 563.2 L1869.6 563.2 L1869.6 564.7 L1869.8 564.7 L1869.8 570.3 L1870.0 570.3 L1870.0 569.5 L1870.3 569.5 L1870.3 578.4 L1870.5 578.4 L1870.5 575.0 L1872.7 575.0 L1872.7 583.0 L1874.8 583.0 L1874.8 581.0 L1875.2 581.0 L1875.2 586.9 L1875.5 586.9 L1875.5 587.8 L1875.9 587.8 L1875.9 590.5 L1876.3 590.5 L1876.3 594.5 L1876.6 594.5 L1876.6 597.6 L1877.0 597.6 L1877.0 599.4 L1877.8 599.4 L1877.8 603.3 L1878.7 603.3 L1878.7 604.5 L1879.6 604.5 L1879.6 609.5 L1880.4 609.5 L1880.4 610.5 L1881.3 610.5 L1881.3 615.5 L1882.4 615.5 L1882.4 616.9 L1883.4 616.9 L1883.4 622.0 L1884.5 622.0 L1884.5 620.6 L1885.6 620.6 L1885.6 628.1 L1886.0 628.1 L1886.0 626.3 L1886.5 626.3 L1886.5 634.8 L1886.9 634.8 L1886.9 631.4 L1887.3 631.4 L1887.3 635.2 L1887.8 635.2 L1887.8 640.8"/>
<path d="M1892.9 651.6 L1894.1 651.6 L1894.1 651.3 L1895.2 651.3 L1895.2 661.9 L1896.4 661.9 L1896.4 654.7 L1899.6 654.7 L1899.6 662.5 L1902.8 662.5 L1902.8 656.8 L1902.7 656.8 L1902.7 662.8 L1902.5 662.8 L1902.5 661.2 L1902.3 661.2 L1902.3 665.3 L1902.2 665.3 L1902.2 670.8 L1902.0 670.8 L1902.0 671.8 L1904.6 671.8 L1904.6 676.2 L1907.2 676.2 L1907.2 673.7 L1907.2 673.7 L1907.2 679.8 L1907.2 679.8 L1907.2 678.5 L1907.2 678.5 L1907.2 681.4 L1907.2 681.4 L1907.2 688.2"/>
<path d="M1910.2 701.1 L1910.5 701.1 L1910.5 708.7 L1910.8 708.7 L1910.8 704.4 L1911.1 704.4 L1911.1 713.6 L1911.5 713.6 L1911.5 711.5 L1912.0 711.5 L1912.0 719.8 L1912.5 719.8 L1912.5 716.2 L1913.0 716.2 L1913.0 719.4 L1913.5 719.4 L1913.5 728.6 L1914.0 728.6 L1914.0 724.6 L1914.5 724.6 L1914.5 731.3"/>
<path d="M1920.1 746.4 L1920.6 746.4 L1920.6 746.9 L1921.2 746.9 L1921.2 753.2 L1921.7 753.2 L1921.7 753.1 L1922.2 753.1 L1922.2 755.8 L1923.5 755.8 L1923.5 760.5 L1924.8 760.5 L1924.8 761.2 L1926.1 761.2 L1926.1 766.1 L1927.4 766.1 L1927.4 765.9 L1928.7 765.9 L1928.7 771.8 L1930.9 771.8 L1930.9 770.3 L1933.0 770.3 L1933.0 773.2 L1935.2 773.2 L1935.2 777.4 L1935.9 777.4 L1935.9 778.2 L1936.6 778.2 L1936.6 780.4 L1937.3 780.4 L1937.3 787.5 L1938.0 787.5 L1938.0 787.3 L1938.8 787.3 L1938.8 789.1 L1939.5 789.1 L1939.5 790.9 L1940.0 790.9 L1940.0 795.0 L1940.6 795.0 L1940.6 799.2 L1941.1 799.2 L1941.1 804.1 L1941.6 804.1 L1941.6 806.2 L1942.4 806.2 L1942.4 810.1 L1943.1 810.1 L1943.1 811.4 L1943.9 811.4 L1943.9 815.5 L1944.7 815.5 L1944.7 817.5"/>
<path d="M1947.2 828.3 L1947.5 828.3 L1947.5 828.2 L1947.8 828.2 L1947.8 837.8 L1948.1 837.8 L1948.1 836.9"/>
<path d="M1951.6 841.2 L1951.8 841.2 L1951.8 842.3 L1952.0 842.3 L1952.0 850.5 L1952.2 850.5 L1952.2 849.4 L1952.4 849.4 L1952.4 856.0 L1955.0 856.0 L1955.0 855.7 L1957.6 855.7 L1957.6 854.5 L1957.6 854.5 L1957.6 861.1 L1957.6 861.1 L1957.6 860.2 L1957.6 860.2 L1957.6 864.5 L1957.6 864.5 L1957.6 871.2 L1961.0 871.2 L1961.0 873.0 L1964.5 873.0 L1964.5 873.0 L1964.8 873.0 L1964.8 875.8 L1965.1 875.8 L1965.1 874.2 L1965.3 874.2 L1965.3 881.6 L1965.6 881.6 L1965.6 881.9 L1965.9 881.9 L1965.9 886.9 L1966.2 886.9 L1966.2 889.4 L1967.4 889.4 L1967.4 890.5 L1968.5 890.5 L1968.5 897.0 L1969.7 897.0 L1969.7 897.2"/>
<path d="M1976.1 908.0 L1976.4 908.0 L1976.4 908.8 L1976.8 908.8 L1976.8 914.9 L1977.1 914.9 L1977.1 915.2 L1977.4 915.2 L1977.4 919.6 L1979.1 919.6 L1979.1 919.9 L1980.9 919.9 L1980.9 927.5 L1982.6 927.5 L1982.6 924.9 L1982.9 924.9 L1982.9 932.0 L1983.2 932.0 L1983.2 929.6 L1983.4 929.6 L1983.4 937.8 L1986.2 937.8 L1986.2 940.1 L1989.1 940.1 L1989.1 938.1 L1989.4 938.1 L1989.4 944.7 L1989.8 944.7 L1989.8 944.0 L1990.1 944.0 L1990.1 949.7 L1990.5 949.7 L1990.5 950.9 L1990.8 950.9 L1990.8 955.4 L1991.2 955.4 L1991.2 957.6"/>
<path d="M1994.7 964.1 L1995.1 964.1 L1995.1 965.7 L1995.5 965.7 L1995.5 968.1 L1995.9 968.1 L1995.9 973.1 L1996.4 973.1 L1996.4 975.9 L1996.8 975.9 L1996.8 978.7 L1997.2 978.7 L1997.2 979.5 L1997.7 979.5 L1997.7 982.6 L1998.3 982.6 L1998.3 987.8 L1998.9 987.8 L1998.9 989.6 L1999.5 989.6 L1999.5 992.4 L2000.1 992.4 L2000.1 992.9 L2000.8 992.9 L2000.8 1000.6 L2001.4 1000.6 L2001.4 998.2 L2002.0 998.2 L2002.0 1003.8 L2002.8 1003.8 L2002.8 999.3 L2003.6 999.3 L2003.6 996.1 L2004.4 996.1 L2004.4 992.3 L2005.2 992.3 L2005.2 994.3 L2006.0 994.3 L2006.0 985.2 L2006.8 985.2 L2006.8 982.7 L2007.6 982.7 L2007.6 980.1 L2008.4 980.1 L2008.4 982.9 L2009.7 982.9 L2009.7 972.6 L2011.0 972.6 L2011.0 976.9 L2012.3 976.9 L2012.3 969.8 L2013.6 969.8 L2013.6 969.9 L2014.9 969.9 L2014.9 965.6 L2015.6 965.6 L2015.6 968.4 L2016.4 968.4 L2016.4 973.3 L2017.1 973.3 L2017.1 973.4 L2017.8 973.4 L2017.8 978.5 L2018.5 978.5 L2018.5 978.4 L2019.2 978.4 L2019.2 986.9 L2019.8 986.9 L2019.8 988.6 L2020.3 988.6 L2020.3 988.0 L2020.8 988.0 L2020.8 994.4 L2021.4 994.4 L2021.4 994.7 L2023.5 994.7 L2023.5 997.8 L2025.7 997.8 L2025.7 1001.4 L2026.2 1001.4 L2026.2 1001.1 L2026.8 1001.1 L2026.8 1009.3 L2027.3 1009.3 L2027.3 1005.6 L2027.8 1005.6 L2027.8 1012.9 L2030.0 1012.9 L2030.0 1011.6 L2032.2 1011.6 L2032.2 1016.4 L2034.3 1016.4 L2034.3 1014.4 L2034.3 1014.4 L2034.3 1020.6 L2034.3 1020.6 L2034.3 1023.4 L2037.5 1023.4 L2037.5 1020.2 L2040.8 1020.2 L2040.8 1026.0 L2040.8 1026.0 L2040.8 1028.0 L2040.8 1028.0 L2040.8 1025.0 L2040.8 1025.0 L2040.8 1035.8 L2040.8 1035.8 L2040.8 1035.2"/>
<path d="M2050.7 1002.8 L2050.7 1002.8 L2050.7 1004.3 L2050.7 1004.3 L2050.7 1010.0 L2050.7 1010.0 L2050.7 1013.5 L2050.7 1013.5 L2050.7 1012.5 L2050.7 1012.5 L2050.7 1018.1 L2050.7 1018.1 L2050.7 1019.5 L2053.6 1019.5 L2053.6 1020.6 L2056.5 1020.6 L2056.5 1018.4 L2059.4 1018.4 L2059.4 1019.2 L2062.3 1019.2 L2062.3 1016.5 L2062.6 1016.5 L2062.6 1024.3 L2062.9 1024.3 L2062.9 1021.7 L2063.3 1021.7 L2063.3 1029.9 L2063.6 1029.9 L2063.6 1033.4 L2063.9 1033.4 L2063.9 1028.5 L2064.2 1028.5 L2064.2 1039.1 L2064.5 1039.1 L2064.5 1033.0 L2067.1 1033.0 L2067.1 1042.6 L2069.7 1042.6 L2069.7 1039.5"/>
</g>
<g stroke="#ff0000" stroke-linejoin="round" stroke-linecap="butt">
<path d="M535.0 803.2 L537.0 802.5 L539.0 796.8 L541.0 791.7 L543.0 791.6 L545.0 794.8 L547.0 795.6 L549.0 793.2 L551.0 789.5 L553.0 788.9 L555.0 791.4 L557.0 794.5 L559.0 794.6 L561.0 791.5 L563.0 786.6 L565.0 785.0 L567.0 784.3 L569.0 784.2 L571.0 784.1 L573.0 783.0 L575.0 782.5 L577.0 785.6 L579.0 789.4 L581.0 791.0 L583.0 789.4 L585.0 785.0 L587.0 781.4 L589.0 781.2 L591.0 781.8 L593.0 782.6 L595.0 782.6 L597.0 782.4 L599.0 782.0 L601.0 781.3 L603.0 782.4 L605.0 784.0 L607.0 783.0 L609.0 780.0 L611.0 777.4 L613.0 775.7 L615.0 777.5 L617.0 778.2 L619.0 775.1 L621.0 773.6 L623.0 772.5 L625.0 771.8 L627.0 773.9 L629.0 774.9 L631.0 774.3 L633.0 774.3 L635.0 772.5 L637.0 770.9 L639.0 769.6 L641.0 766.5 L643.0 765.0 L645.0 766.0 L647.0 766.8 L649.0 766.8 L651.0 765.2 L653.0 763.5 L655.0 764.0 L657.0 763.7 L659.0 762.5 L661.0 761.2 L663.0 759.5 L665.0 757.4 L667.0 757.1 L669.0 757.4 L671.0 757.6 L673.0 757.7 L675.0 757.4 L677.0 757.7 L679.0 758.9 L681.0 760.1 L683.0 760.9 L685.0 758.9 L687.0 754.1 L689.0 749.8 L691.0 747.5 L693.0 747.3 L695.0 748.7 L697.0 749.7 L699.0 751.3 L701.0 752.3 L703.0 751.2 L705.0 749.6 L707.0 748.6 L709.0 748.2 L711.0 747.6 L713.0 745.8 L715.0 744.9 L717.0 744.9 L719.0 744.3 L721.0 743.6 L723.0 743.4 L725.0 741.4 L727.0 738.7 L729.0 739.1 L731.0 741.1 L733.0 742.7 L735.0 742.0 L737.0 743.0 L739.0 742.4 L741.0 741.6 L743.0 738.1 L745.0 733.7 L747.0 733.7 L749.0 736.3 L751.0 735.0 L753.0 732.7 L755.0 731.4 L757.0 731.9 L759.0 734.0 L761.0 734.7 L763.0 734.7 L765.0 734.8 L767.0 734.8 L769.0 734.5 L771.0 733.8 L773.0 733.2 L775.0 731.6 L777.0 729.0 L779.0 726.0 L781.0 724.9 L783.0 724.5 L785.0 726.5 L787.0 729.3 L789.0 730.5 L791.0 731.1 L793.0 729.9 L795.0 727.1 L797.0 727.4 L799.0 728.7 L801.0 727.5 L803.0 727.6 L805.0 727.3 L807.0 726.1 L809.0 727.7 L811.0 729.0 L813.0 726.5 L815.0 726.1 L817.0 724.1 L819.0 722.6 L821.0 725.2 L823.0 730.2 L825.0 732.1 L827.0 732.0 L829.0 731.2 L831.0 730.1 L833.0 732.7 L835.0 734.7 L837.0 734.4 L839.0 730.9 L841.0 727.3 L843.0 727.4 L845.0 731.1 L847.0 732.4 L849.0 729.7 L851.0 724.1 L853.0 719.9 L855.0 722.9 L857.0 729.3 L859.0 731.6 L861.0 730.8 L863.0 729.2 L865.0 728.7 L867.0 734.8 L869.0 737.9 L871.0 733.2 L873.0 724.3 L875.0 721.3 L877.0 724.7 L879.0 730.5 L881.0 731.8 L883.0 732.4 L885.0 734.5 L887.0 737.4 L889.0 737.1 L891.0 736.1 L893.0 736.6 L895.0 736.4 L897.0 731.2 L899.0 727.1 L901.0 727.2 L903.0 731.2 L905.0 735.2 L907.0 733.9 L909.0 729.5 L911.0 729.9 L913.0 735.8 L915.0 741.9 L917.0 742.9 L919.0 738.6 L921.0 735.1 L923.0 737.9 L925.0 743.8 L927.0 747.0 L929.0 744.4 L931.0 741.2 L933.0 740.9 L935.0 742.6 L937.0 742.9 L939.0 741.8 L941.0 739.0 L943.0 736.9 L945.0 736.1 L947.0 736.9 L949.0 738.3 L951.0 740.2 L953.0 742.7 L955.0 743.6 L957.0 742.9 L959.0 743.6 L961.0 745.9 L963.0 748.3 L965.0 749.3 L967.0 746.9 L969.0 745.0 L971.0 747.2 L973.0 751.8 L975.0 755.7 L977.0 756.1 L979.0 753.7 L981.0 753.7 L983.0 753.0 L985.0 751.3 L987.0 749.7 L989.0 748.3 L991.0 749.8 L993.0 754.1 L995.0 755.9 L997.0 755.4 L999.0 752.8" stroke-width="7.0"/>
<path d="M1092.0 746.1 L1094.0 745.8 L1096.0 747.2 L1098.0 745.3 L1100.0 744.7 L1102.0 744.2 L1104.0 741.9 L1106.0 742.2 L1108.0 741.1 L1110.0 739.0 L1112.0 739.0 L1114.0 740.0 L1116.0 740.0 L1118.0 741.7 L1120.0 743.3 L1122.0 745.3 L1124.0 746.1 L1126.0 745.8 L1128.0 746.7 L1130.0 746.4 L1132.0 744.8 L1134.0 742.9 L1136.0 740.9 L1138.0 740.7 L1140.0 741.4" stroke-width="7.0"/>
<path d="M1157.0 742.3 L1159.0 742.5 L1161.0 743.0 L1163.0 742.5 L1165.0 742.9 L1167.0 745.1 L1169.0 746.9 L1171.0 746.1 L1173.0 744.4 L1175.0 741.8 L1177.0 739.8 L1179.0 739.9 L1181.0 740.0 L1183.0 738.4 L1185.0 739.8 L1187.0 744.8 L1189.0 748.7 L1191.0 752.8 L1193.0 752.7 L1195.0 748.4 L1197.0 747.0 L1199.0 745.2 L1201.0 740.8 L1203.0 740.1 L1205.0 740.3 L1207.0 740.5 L1209.0 741.7 L1211.0 741.1 L1213.0 741.9 L1215.0 745.8 L1217.0 748.2 L1219.0 748.3 L1221.0 747.7 L1223.0 750.5 L1225.0 754.8 L1227.0 756.2 L1229.0 754.4 L1231.0 752.3 L1233.0 749.8 L1235.0 749.2 L1237.0 749.9 L1239.0 749.2 L1241.0 749.4 L1243.0 750.1 L1245.0 749.8 L1247.0 751.6 L1249.0 754.5 L1251.0 753.7 L1253.0 752.0 L1255.0 752.3 L1257.0 753.7 L1259.0 754.4 L1261.0 755.6 L1263.0 753.3 L1265.0 753.1 L1267.0 753.1 L1269.0 751.9 L1271.0 753.7 L1273.0 757.0 L1275.0 756.3 L1277.0 755.2 L1279.0 753.7 L1281.0 751.8 L1283.0 751.8 L1285.0 751.5 L1287.0 750.9 L1289.0 753.4 L1291.0 757.7 L1293.0 761.2 L1295.0 762.5 L1297.0 762.3 L1299.0 758.8 L1301.0 754.3 L1303.0 750.4 L1305.0 747.8 L1307.0 747.3 L1309.0 747.5 L1311.0 748.3 L1313.0 749.0 L1315.0 750.1 L1317.0 750.7 L1319.0 749.9 L1321.0 749.9 L1323.0 750.4 L1325.0 750.7 L1327.0 750.8 L1329.0 749.3 L1331.0 746.8 L1333.0 746.5 L1335.0 744.0 L1337.0 740.5 L1339.0 739.7 L1341.0 741.2 L1343.0 743.3 L1345.0 745.2 L1347.0 745.2 L1349.0 745.5 L1351.0 744.9 L1353.0 742.8 L1355.0 740.4 L1357.0 739.2 L1359.0 739.1 L1361.0 738.0 L1363.0 737.8 L1365.0 737.4 L1367.0 737.3 L1369.0 737.3 L1371.0 737.4 L1373.0 737.8 L1375.0 738.4 L1377.0 737.1 L1379.0 737.7 L1381.0 738.4 L1383.0 736.3 L1385.0 733.8 L1387.0 731.2 L1389.0 729.6 L1391.0 729.0 L1393.0 727.1 L1395.0 727.1 L1397.0 731.1 L1399.0 734.1 L1401.0 735.8 L1403.0 737.2 L1405.0 736.2 L1407.0 736.5 L1409.0 737.9 L1411.0 736.8 L1413.0 734.3 L1415.0 732.8 L1417.0 731.3 L1419.0 733.1 L1421.0 734.5 L1423.0 731.3 L1425.0 729.5 L1427.0 729.3 L1429.0 729.7 L1431.0 732.7 L1433.0 732.9 L1435.0 731.6 L1437.0 732.2 L1439.0 734.3 L1441.0 737.1 L1443.0 739.2 L1445.0 738.5 L1447.0 735.5 L1449.0 735.1 L1451.0 736.0 L1453.0 734.4 L1455.0 734.6 L1457.0 735.2 L1459.0 733.7 L1461.0 734.2 L1463.0 734.2 L1465.0 732.9 L1467.0 735.5 L1469.0 735.4 L1471.0 733.1 L1473.0 729.8 L1475.0 726.2 L1477.0 726.6 L1479.0 729.0 L1481.0 730.1 L1483.0 727.5 L1485.0 724.8 L1487.0 724.0 L1489.0 729.0 L1491.0 734.3 L1493.0 736.8 L1495.0 734.0 L1497.0 733.0 L1499.0 734.6 L1501.0 736.9 L1503.0 739.5 L1505.0 737.0 L1507.0 734.6 L1509.0 733.7 L1511.0 732.9 L1513.0 732.5 L1515.0 734.8 L1517.0 734.6 L1519.0 732.9 L1521.0 732.0 L1523.0 735.3 L1525.0 741.4 L1527.0 744.6 L1529.0 744.3 L1531.0 741.0 L1533.0 741.1 L1535.0 743.7 L1537.0 743.4 L1539.0 742.7 L1541.0 744.4 L1543.0 745.2 L1545.0 744.6 L1547.0 742.9 L1549.0 742.0 L1551.0 744.7 L1553.0 746.2 L1555.0 743.6 L1557.0 740.4 L1559.0 740.9 L1561.0 745.0 L1563.0 746.4 L1565.0 745.8 L1567.0 745.2 L1569.0 744.5 L1571.0 744.3 L1573.0 745.7 L1575.0 745.9 L1577.0 746.5 L1579.0 747.1 L1581.0 745.0 L1583.0 744.8 L1585.0 748.3 L1587.0 750.7 L1589.0 750.4 L1591.0 749.6 L1593.0 747.9 L1595.0 746.7 L1597.0 746.4 L1599.0 743.5 L1601.0 741.7 L1603.0 743.6 L1605.0 747.5 L1607.0 750.6 L1609.0 753.0 L1611.0 752.6 L1613.0 751.3 L1615.0 751.2 L1617.0 752.7 L1619.0 751.6 L1621.0 747.5 L1623.0 745.7 L1625.0 746.9 L1627.0 748.8 L1629.0 750.1 L1631.0 748.3 L1633.0 746.4 L1635.0 748.0 L1637.0 750.3 L1639.0 750.7 L1641.0 751.0 L1643.0 751.8 L1645.0 752.2 L1647.0 753.1 L1649.0 752.7 L1651.0 748.9 L1653.0 747.6 L1655.0 749.3 L1657.0 751.5 L1659.0 752.1 L1661.0 749.8 L1663.0 749.1 L1665.0 754.2 L1667.0 754.6 L1669.0 750.8 L1671.0 747.0 L1673.0 745.3 L1675.0 743.7 L1677.0 741.0 L1679.0 737.1 L1681.0 734.9 L1683.0 734.3 L1685.0 734.7 L1687.0 733.5 L1689.0 733.9 L1691.0 738.1 L1693.0 740.3 L1695.0 741.1 L1697.0 744.1 L1699.0 745.9 L1701.0 745.7 L1703.0 746.4 L1705.0 744.5 L1707.0 740.7 L1709.0 738.8 L1711.0 738.3 L1713.0 737.1 L1715.0 736.6 L1717.0 735.2 L1719.0 733.4 L1721.0 734.6 L1723.0 735.2 L1725.0 733.4 L1727.0 732.4 L1729.0 734.1 L1731.0 738.7 L1733.0 742.7 L1735.0 742.1 L1737.0 742.0 L1739.0 743.7 L1741.0 745.4 L1743.0 745.3 L1745.0 742.6 L1747.0 739.5 L1749.0 739.9 L1751.0 740.3 L1753.0 739.0" stroke-width="7.0"/>
<path d="M1770.0 744.5 L1772.0 745.3 L1774.0 745.6 L1776.0 747.1 L1778.0 749.1 L1780.0 748.0 L1782.0 746.9 L1784.0 744.5 L1786.0 741.7 L1788.0 740.6 L1790.0 740.0 L1792.0 739.8 L1794.0 741.4 L1796.0 742.4 L1798.0 742.9 L1800.0 746.2 L1802.0 749.9 L1804.0 750.7 L1806.0 748.8 L1808.0 747.0 L1810.0 744.3 L1812.0 744.8 L1814.0 746.8 L1816.0 745.5 L1818.0 743.9 L1820.0 745.0 L1822.0 743.2 L1824.0 745.2 L1826.0 747.3 L1828.0 747.8 L1830.0 747.5 L1832.0 748.8 L1834.0 749.5 L1836.0 751.0 L1838.0 752.6 L1840.0 753.6 L1842.0 752.6 L1844.0 751.8 L1846.0 752.9 L1848.0 752.1 L1850.0 753.7 L1852.0 756.8 L1854.0 757.1 L1856.0 756.1 L1858.0 755.9 L1860.0 756.4 L1862.0 757.8 L1864.0 759.3 L1866.0 757.0 L1868.0 755.6 L1870.0 756.2 L1872.0 758.6 L1874.0 759.0 L1876.0 757.0 L1878.0 755.5 L1880.0 756.4 L1882.0 756.4 L1884.0 755.3 L1886.0 755.2 L1888.0 754.2 L1890.0 754.5 L1892.0 755.9 L1894.0 753.7 L1896.0 754.3 L1898.0 757.2 L1900.0 757.4 L1902.0 759.4 L1904.0 763.6 L1906.0 764.3 L1908.0 764.9 L1910.0 764.7 L1912.0 762.8 L1914.0 760.6 L1916.0 756.7 L1918.0 751.9 L1920.0 748.4 L1922.0 746.5 L1924.0 746.0 L1926.0 746.7 L1928.0 749.8 L1930.0 755.0 L1932.0 760.9 L1934.0 764.3 L1936.0 765.1 L1938.0 762.5 L1940.0 757.8 L1942.0 752.8 L1944.0 746.8 L1946.0 739.9 L1948.0 735.4 L1950.0 736.0 L1952.0 738.7 L1954.0 741.5 L1956.0 745.1 L1958.0 748.8 L1960.0 751.8 L1962.0 751.8 L1964.0 748.4 L1966.0 745.3 L1968.0 744.6 L1970.0 744.5 L1972.0 742.8 L1974.0 740.2 L1976.0 740.3 L1978.0 742.5 L1980.0 743.8 L1982.0 744.3 L1984.0 745.3 L1986.0 745.4 L1988.0 746.3 L1990.0 745.8 L1992.0 744.5 L1994.0 744.1 L1996.0 742.7 L1998.0 738.2 L2000.0 735.7 L2002.0 733.6 L2004.0 732.5 L2006.0 733.9 L2008.0 736.0 L2010.0 739.7 L2012.0 744.9 L2014.0 748.0 L2016.0 747.6 L2018.0 749.0 L2020.0 749.2 L2022.0 744.9 L2024.0 741.4 L2026.0 737.2 L2028.0 735.6 L2030.0 736.6 L2032.0 737.4 L2034.0 734.6 L2036.0 732.6 L2038.0 731.3 L2040.0 734.0 L2042.0 735.7 L2044.0 734.5" stroke-width="7.0"/>
<path d="M253.7 20.0 L254.0 49.0 L256.9 396.0 L259.4 740.0 L261.8 1040.0 L264.2 1440.0 L264.6 1470.0 L272.6 1470.0 L272.9 1440.0 L273.0 1104.0 L274.8 1097.0 L275.0 1040.0 L273.8 1010.1 L275.9 898.8 L278.1 906.4 L279.8 910.2 L281.1 993.1 L283.2 1123.9 L285.7 1061.1 L287.8 962.5" stroke-width="6.10" stroke-linecap="round"/>
<path d="M287.8 962.5 L290.8 955.7 L294.6 972.6 L298.5 933.6 L301.0 921.7 L303.6 949.6 L307.0 889.4 L309.5 904.5 L312.9 878.4 L315.5 913.9 L318.5 883.5 L319.7 904.5 L322.3 894.5 L325.7 942.0 L329.9 992.1 L333.0 981.1 L334.7 948.9 L337.6 926.8 L341.5 938.5 L342.7 914.9 L346.6 923.2 L347.8 889.4 L352.0 872.4 L355.4 874.1 L358.8 890.9 L363.1 860.5 L367.3 852.9 L370.7 867.1 L372.4 851.2 L375.9 862.0 L379.3 848.6 L383.1 861.5 L386.0 806.5 L388.5 813.0 L390.5 800.5 L394.8 891.3" stroke-width="7.00" stroke-linecap="round"/>
<path d="M394.8 891.3 L403.3 776.7 L404.7 776.7 L409.1 908.2 L410.5 908.2 L417.3 725.5 L418.7 725.5 L422.2 977.1 L423.6 977.1 L429.4 683.4 L430.8 683.4 L433.2 1048.5 L434.6 1048.5 L441.0 638.5 L442.4 638.5 L445.1 1081.1 L446.5 1081.1 L452.3 619.5 L453.7 619.5 L457.4 1091.1 L458.8 1091.1 L464.3 610.7 L465.7 610.7 L469.2 1094.2 L470.6 1094.2 L475.4 596.6 L476.8 596.6 L480.2 1075.3 L481.6 1075.3 L487.4 608.8 L488.8 608.8 L492.1 1027.6 L493.5 1027.6 L498.5 635.5 L499.9 635.5 L505.1 951.5 L506.5 951.5 L510.6 709.4 L512.0 709.4 L517.1 899.5 L518.5 899.5 L522.4 753.3 L523.8 753.3 L531.3 843.2" stroke-width="6.10" stroke-linecap="round"/>
<path d="M531.3 843.2 L536.3 758.1 L541.3 821.3 L547.5 778.2 L555.1 800.6 L556.6 781.3 L562.8 808.7 L568.8 758.1 L577.0 810.0 L580.7 767.5 L585.8 801.8 L593.9 760.6 L599.9 805.6 L607.7 758.1 L611.4 798.1 L619.0 760.6 L622.1 783.1 L624.6 763.7 L627.7 784.3 L630.9 762.5 L634.0 784.3 L640.3 763.7 L643.4 766.8 L646.8 748.1 L650.9 786.2 L659.1 744.9 L666.0 776.8 L671.6 738.1 L679.7 774.9 L686.6 746.2 L688.5 763.0 L693.5 733.0 L704.2 769.9 L709.8 724.3 L716.7 763.6 L725.5 722.4 L729.9 756.1 L733.6 730.5 L736.1 756.7 L741.8 721.8 L743.0 761.8 L750.2 709.9 L754.3 750.5 L762.4 720.5 L769.6 749.8 L777.5 714.9 L780.6 734.2 L782.1 717.4 L784.4 737.9 L785.0 714.9 L786.9 731.7 L788.8 720.5 L793.8 746.1 L801.9 703.0 L804.4 746.1 L806.9 728.7 L809.4 744.8 L813.8 704.8 L816.6 736.1 L817.8 718.0 L821.3 730.4 L825.7 719.9 L829.9 758.0 L833.9 713.6 L836.0 726.7 L838.3 713.0 L839.5 754.9 L841.1 738.7 L842.7 754.2 L847.7 692.9 L851.4 756.1 L859.2 692.1 L864.2 773.0 L870.8 699.2 L874.0 754.9 L879.0 694.8 L884.0 756.7 L886.5 738.7 L889.0 753.0 L895.0 709.2 L899.7 761.8 L904.0 701.1 L911.8 763.0 L916.0 704.2 L921.0 773.0 L926.0 714.2 L932.9 771.2 L937.9 722.4 L946.7 749.8 L951.9 724.3 L960.1 766.1 L963.9 727.4 L970.5 763.0 L973.6 737.4 L981.1 774.3 L985.5 738.1 L987.4 746.7 L989.9 734.3 L999.0 779.9 L1004.9 718.9" stroke-width="7.00" stroke-linecap="round"/>
<path d="M1004.9 718.9 L1006.3 718.9 L1009.0 818.1 L1010.4 818.1 L1017.0 650.8 L1018.4 650.8 L1021.0 888.5 L1022.4 888.5 L1028.2 586.5 L1029.6 586.5 L1032.0 949.5 L1033.4 949.5 L1039.4 545.5 L1040.8 545.5 L1043.0 981.6 L1044.4 981.6 L1050.4 532.4 L1051.8 532.4 L1055.3 975.5 L1056.7 975.5 L1062.3 581.6 L1063.7 581.6 L1067.2 887.0 L1068.6 887.0 L1074.4 641.6 L1075.8 641.6 L1081.9 800.0" stroke-width="6.10" stroke-linecap="round"/>
<path d="M1081.9 800.0 L1086.9 726.8 L1090.7 753.0 L1091.9 736.2 L1095.0 763.7 L1099.4 737.5 L1101.3 746.8 L1105.1 729.3 L1108.2 752.4 L1109.8 738.7 L1112.0 753.7 L1115.1 724.9 L1127.0 763.7 L1130.7 728.1 L1132.6 730.6 L1134.0 754.9 L1135.4 732.3 L1136.8 754.9 L1138.1 734.0 L1139.5 754.9 L1140.9 735.7 L1142.1 754.9 L1142.3 735.9 L1145.3 735.9 L1145.4 714.9 L1145.5 735.9 L1153.8 735.9 L1153.9 754.9 L1155.3 735.6 L1156.7 754.9 L1158.1 735.6 L1159.4 754.9 L1160.8 735.6 L1162.2 754.9 L1163.6 735.6 L1169.6 741.2 L1174.0 765.6 L1180.2 716.8 L1183.4 724.9 L1186.5 763.7 L1190.3 742.5 L1192.8 771.8 L1195.3 742.5 L1197.8 756.8 L1200.9 724.9 L1204.0 745.5 L1206.3 729.3 L1211.6 755.5 L1217.2 729.3 L1221.6 764.9 L1227.9 743.1 L1230.1 771.2 L1234.7 742.5 L1236.6 749.3 L1240.0 731.8 L1243.9 765.6 L1251.7 743.1 L1255.4 762.4 L1257.9 745.0 L1262.9 766.8 L1264.8 743.7 L1266.7 766.2 L1269.0 737.5 L1271.7 755.5 L1274.8 741.2 L1278.0 786.9 L1283.9 728.7 L1286.1 744.3 L1288.0 731.8 L1291.8 773.1 L1295.8 778.7 L1304.3 733.1 L1313.1 760.5 L1320.0 738.1 L1322.5 758.0 L1324.3 742.5 L1328.1 763.7 L1336.3 730.0 L1339.4 746.8 L1342.5 731.2 L1346.9 756.8 L1353.2 742.5 L1355.7 743.0 L1357.8 723.7 L1364.8 750.5 L1367.6 732.5 L1369.8 745.5 L1372.0 721.8 L1379.9 753.7 L1383.3 726.2 L1385.8 744.3 L1388.9 714.9 L1395.2 736.7 L1398.9 719.9 L1403.9 751.8 L1406.4 736.2 L1408.9 750.5 L1412.1 711.8 L1415.2 745.5 L1420.0 724.9 L1425.9 743.6 L1429.0 712.4 L1432.1 731.7 L1435.3 723.1 L1436.8 761.8 L1442.5 714.9 L1447.2 754.9 L1449.0 736.2 L1450.9 754.9 L1454.0 713.7 L1455.9 734.2 L1459.1 713.7 L1460.9 755.5 L1465.3 737.5 L1467.2 735.5 L1470.6 712.8 L1474.7 751.8 L1481.0 701.8 L1482.9 734.2 L1484.7 717.4 L1485.7 750.5 L1492.9 705.8 L1497.0 771.8 L1501.9 715.9 L1504.8 734.2 L1507.3 719.9 L1508.9 759.9 L1516.9 712.4 L1523.0 753.0 L1526.7 725.6 L1530.9 763.7 L1537.4 721.8 L1540.5 753.0 L1543.0 738.7 L1547.1 768.7 L1552.0 712.4 L1558.3 771.2 L1564.1 719.9 L1568.1 756.8 L1570.0 742.5 L1573.1 765.6 L1577.1 726.8 L1583.8 758.0 L1588.1 743.1 L1591.9 759.9 L1595.7 738.1 L1598.2 753.0 L1600.0 734.3 L1603.2 746.8 L1605.7 730.0 L1612.0 778.1 L1620.1 721.2 L1623.9 773.7 L1627.6 738.1 L1631.4 755.5 L1634.5 737.5 L1642.7 761.8 L1650.2 742.5 L1654.8 763.7 L1656.7 726.8 L1662.1 769.9 L1668.0 732.5 L1670.8 778.1 L1674.6 729.3 L1679.0 743.0 L1682.7 719.9 L1685.9 748.0 L1689.0 724.3 L1691.5 743.0 L1694.3 725.6 L1697.8 759.9 L1702.2 743.7 L1704.7 756.8 L1707.8 727.5 L1710.3 743.0 L1712.8 725.6 L1718.5 748.6 L1723.8 719.3 L1728.5 743.0 L1731.0 726.2 L1738.5 765.6 L1740.8 728.1 L1742.9 730.2 L1744.3 755.5 L1745.6 732.5 L1747.0 755.5 L1748.4 734.7 L1749.8 755.5 L1750.7 735.9 L1758.7 735.9 L1758.8 714.9 L1758.9 735.9 L1765.4 735.9 L1765.6 754.9 L1766.9 735.6 L1768.3 754.9 L1769.7 735.6 L1771.1 754.9 L1772.5 735.6 L1773.8 754.9 L1779.2 738.7 L1783.6 764.3 L1786.7 731.2 L1788.6 746.8 L1791.8 718.1 L1798.0 760.5 L1804.9 738.1 L1808.9 762.4 L1811.8 737.5 L1813.3 753.0 L1815.9 723.1 L1820.0 761.8 L1823.7 736.2 L1825.6 758.0 L1828.1 729.3 L1833.8 765.6 L1837.3 740.0 L1839.4 762.4 L1842.5 743.1 L1846.9 763.7 L1850.0 742.5 L1853.2 759.3 L1855.7 743.1 L1856.9 778.1 L1863.8 741.9 L1868.8 768.7 L1873.9 751.3 L1878.2 763.1 L1883.3 744.4 L1885.8 769.9 L1889.5 743.7 L1892.7 764.3 L1895.2 741.9 L1897.7 765.6 L1900.2 746.2 L1903.9 771.8 L1906.4 756.3 L1910.2 782.5 L1914.0 753.8 L1917.7 756.8 L1922.7 734.3 L1925.2 749.3 L1927.7 739.4 L1934.0 769.3 L1939.0 785.6 L1943.4 733.7 L1946.8 721.8 L1949.0 736.7 L1951.5 726.2 L1956.6 760.5 L1960.3 743.7 L1964.1 763.1 L1971.0 726.8 L1977.2 754.9 L1980.4 731.8 L1983.5 753.0 L1987.3 735.0 L1990.1 758.0 L1996.7 735.6 L1999.2 744.3 L2004.8 717.7 L2006.9 743.0 L2009.2 721.2 L2012.9 755.5 L2019.2 761.2 L2023.0 725.6 L2026.1 753.7 L2028.0 719.9 L2030.2 736.7 L2031.7 724.9 L2034.9 748.6 L2039.3 735.2 L2043.0 706.8 L2047.4 763.1 L2049.5 737.2 L2059.6 736.0 L2059.8 754.9 L2061.2 735.6 L2062.6 754.9 L2063.9 735.6 L2065.3 754.9 L2066.7 735.6 L2068.1 754.9" stroke-width="7.00" stroke-linecap="round"/>
</g>
</g>
<rect x="1253.1" y="96.2" width="767.9" height="202.6" fill="#ffffff" stroke="#262626" stroke-width="3"/>
<line x1="1270" y1="150" x2="1439" y2="150" stroke="#0000ff" stroke-width="6" stroke-dasharray="42 25.4"/>
<line x1="1270" y1="244" x2="1439" y2="244" stroke="#ff0000" stroke-width="6"/>
<g fill="#000" font-size="81px">
<text x="1450" y="179.0">BSMC</text>
<text x="1450" y="273.2">Proposed control</text>
</g>
<g fill="#000" font-size="91.67px">
<text x="232.7" y="1553" text-anchor="middle">0</text>
<text x="538.2" y="1553" text-anchor="middle">5</text>
<text x="843.7" y="1553" text-anchor="middle">10</text>
<text x="1149.2" y="1553" text-anchor="middle">15</text>
<text x="1454.7" y="1553" text-anchor="middle">20</text>
<text x="1760.2" y="1553" text-anchor="middle">25</text>
<text x="2065.7" y="1553" text-anchor="middle">30</text>
<text x="203.5" y="80.5" text-anchor="end">2</text>
<text x="203.5" y="428.0" text-anchor="end">1</text>
<text x="203.5" y="775.5" text-anchor="end">0</text>
<text x="203.5" y="1123.0" text-anchor="end">-1</text>
<text x="203.5" y="1470.5" text-anchor="end">-2</text>
</g>
<text x="1152" y="1670.8" text-anchor="middle" font-size="100px" fill="#000">Time (Second)</text>
<text transform="translate(90.8 745) rotate(-90)" text-anchor="middle" font-size="100px" fill="#262626" letter-spacing="-0.4">Error 3 (Deg)</text>
<text y="1774.6" font-size="76px" fill="#000" text-anchor="middle"><tspan x="1023.4">(</tspan><tspan x="1052.2" font-weight="bold">c</tspan><tspan x="1079.7">)</tspan></text>
</svg></body></html>
